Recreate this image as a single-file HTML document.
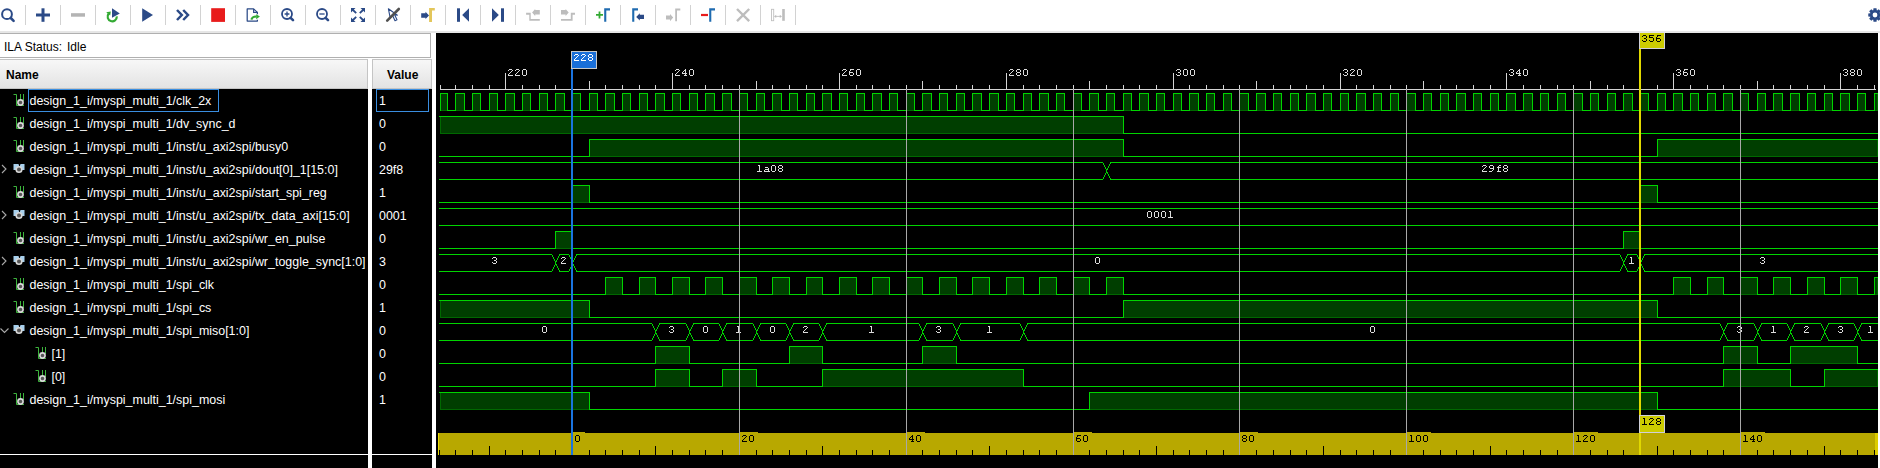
<!DOCTYPE html>
<html><head><meta charset="utf-8"><style>
html,body{margin:0;padding:0;width:1880px;height:468px;overflow:hidden;background:#fff}
svg{display:block}
.nm{font-family:"Liberation Sans",sans-serif;font-size:12.45px;fill:#ffffff}
.rl{font-family:"Liberation Mono",monospace;font-size:11px;letter-spacing:0.5px;fill:#e0e0e0}
.bl{font-family:"Liberation Mono",monospace;font-size:11px;letter-spacing:0.5px;fill:#e0e0e0}
.yl{font-family:"Liberation Mono",monospace;font-size:11px;letter-spacing:0.5px;fill:#000}
.cl{font-family:"Liberation Mono",monospace;font-size:11px;letter-spacing:0.5px}
.hd{font-family:"Liberation Sans",sans-serif;font-size:12px;font-weight:bold;fill:#000}
.st{font-family:"Liberation Sans",sans-serif;font-size:12px;fill:#000}
</style></head><body>
<svg width="1880" height="468" viewBox="0 0 1880 468">
<defs><linearGradient id="hg" x1="0" y1="0" x2="0" y2="1"><stop offset="0" stop-color="#f8f8f8"/><stop offset="1" stop-color="#e2e2e2"/></linearGradient></defs>
<rect x="0" y="0" width="1880" height="468" fill="#ffffff"/>
<rect x="0" y="31" width="1880" height="2" fill="#e6e6e6"/>
<g id="toolbar">
<g fill="#d2d2d2">
<rect x="25" y="5" width="1" height="20"/><rect x="60" y="5" width="1" height="20"/><rect x="95" y="5" width="1" height="20"/><rect x="130" y="5" width="1" height="20"/><rect x="165" y="5" width="1" height="20"/><rect x="200" y="5" width="1" height="20"/><rect x="235" y="5" width="1" height="20"/><rect x="270" y="5" width="1" height="20"/><rect x="305" y="5" width="1" height="20"/><rect x="340" y="5" width="1" height="20"/><rect x="375" y="5" width="1" height="20"/><rect x="410" y="5" width="1" height="20"/><rect x="445" y="5" width="1" height="20"/><rect x="480" y="5" width="1" height="20"/><rect x="515" y="5" width="1" height="20"/><rect x="550" y="5" width="1" height="20"/><rect x="585" y="5" width="1" height="20"/><rect x="620" y="5" width="1" height="20"/><rect x="655" y="5" width="1" height="20"/><rect x="690" y="5" width="1" height="20"/><rect x="725" y="5" width="1" height="20"/><rect x="760" y="5" width="1" height="20"/><rect x="795" y="5" width="1" height="20"/>
</g>
<!-- search -->
<circle cx="7" cy="14.2" r="4.9" fill="none" stroke="#2b4a87" stroke-width="2"/>
<path d="M10.8 18L13.6 20.8" stroke="#2b4a87" stroke-width="2.6" stroke-linecap="round"/>
<!-- plus -->
<rect x="36" y="13.5" width="14" height="3" fill="#2b4a87"/><rect x="41.5" y="8.3" width="3" height="13.5" fill="#2b4a87"/>
<!-- minus -->
<rect x="71" y="13.2" width="14" height="3.5" fill="#b4b4b4"/>
<!-- restart -->
<path d="M112 8.2L119.8 13.4L112 17.8Z" fill="#2b4a87"/>
<path d="M108.6 13.8A4.6 4.6 0 1 0 116.8 16.4" fill="none" stroke="#33aa33" stroke-width="2.2"/>
<path d="M106.2 12.2L110.8 11.6L110.2 15.6Z" fill="#33aa33"/>
<!-- play -->
<path d="M142.2 8.3L153 15L142.2 21.8Z" fill="#2b4a87"/>
<!-- double chevron -->
<path d="M177 10L181.8 15L177 20M183.2 10L188 15L183.2 20" fill="none" stroke="#2b4a87" stroke-width="2.5"/>
<!-- stop -->
<rect x="211.2" y="8.2" width="13.8" height="13.7" fill="#e81c1c"/>
<!-- export -->
<path d="M257.4 14.2V12.4L253.6 8.9H247.2V21H257.4V19.8" fill="none" stroke="#2b4a87" stroke-width="1.25" stroke-linejoin="round"/>
<path d="M253.6 8.9V12.4H257.4" fill="none" stroke="#2b4a87" stroke-width="1.1"/>
<path d="M251.3 19.6C252 17.4 253.6 16.4 256.4 16.5" fill="none" stroke="#33aa33" stroke-width="2"/>
<path d="M256.2 14.2L259.9 16.5L256.2 19.2Z" fill="#33aa33"/>
<!-- zoom in -->
<circle cx="287" cy="14" r="5" fill="none" stroke="#2b4a87" stroke-width="1.8"/>
<path d="M293 20.2L290.6 17.8" stroke="#2b4a87" stroke-width="2.6" stroke-linecap="round"/>
<path d="M284.6 14H289.4M287 11.6V16.4" stroke="#2b4a87" stroke-width="1.3"/>
<!-- zoom out -->
<circle cx="322" cy="14" r="5" fill="none" stroke="#2b4a87" stroke-width="1.8"/>
<path d="M328 20.2L325.6 17.8" stroke="#2b4a87" stroke-width="2.6" stroke-linecap="round"/>
<path d="M319.4 14H324.6" stroke="#2b4a87" stroke-width="1.3"/>
<!-- fit -->
<g fill="#2b4a87">
<path d="M351 8H355.5L351 12.5Z"/><path d="M365 8H360.5L365 12.5Z"/><path d="M351 22H355.5L351 17.5Z"/><path d="M365 22H360.5L365 17.5Z"/>
</g>
<path d="M352.5 9.5L356.2 13.2M363.5 9.5L359.8 13.2M352.5 20.5L356.2 16.8M363.5 20.5L359.8 16.8" stroke="#2b4a87" stroke-width="1.8"/>
<!-- cursor slash -->
<path d="M388.4 8.8L390 16.8L392.6 15.6L395 20.8L397 19.8L394.6 14.8L397.4 15.2Z" fill="none" stroke="#2b4a87" stroke-width="1.1" stroke-linejoin="round"/>
<path d="M387.2 20.6L398.8 9" stroke="#505050" stroke-width="2.6" stroke-linecap="round"/>
<!-- goto marker -->
<path d="M421.2 13.2H425.5V11.8L429 15.4L425.5 19.1V17.8H421.2Z" fill="#2b4a87"/>
<path d="M429.1 21.9V8.1H434.8V10.6H432V21.9Z" fill="#e3c65a"/>
<!-- go start -->
<rect x="457" y="8.3" width="3" height="13.5" fill="#2b4a87"/><path d="M462.2 15L469 8.3V21.8Z" fill="#2b4a87"/>
<!-- go end -->
<path d="M492 8.3L498.8 15L492 21.8Z" fill="#2b4a87"/><rect x="501" y="8.3" width="3" height="13.5" fill="#2b4a87"/>
<!-- prev transition -->
<g fill="#bdbdbd">
<path d="M526.1 12.7H530.7V19H539.8V20.7H529.3V14.7H526.1Z"/>
<path d="M535.2 10.1H539.8V14.6H535.2V16L532.1 12.4L535.2 8.9Z"/>
</g>
<!-- next transition -->
<g fill="#bdbdbd">
<path d="M561 10.1H565.6V8.9L568.7 12.4L565.6 16V14.6H561Z"/>
<path d="M575 12.7H570.8V19H561V20.7H572.6V14.7H575Z"/>
</g>
<!-- add marker -->
<path d="M596 14.9H603M599.5 11.4V18.4" stroke="#33aa33" stroke-width="1.8"/>
<path d="M604.2 21.8V8.3H610V10.4H606.3V21.8Z" fill="#1f6bb0"/>
<!-- prev marker -->
<path d="M632.2 21.8V8.3H638V10.4H634.3V21.8Z" fill="#1f6bb0"/>
<path d="M644 14.8H639.8V13.2L636.2 16.9L639.8 20.6V19H644Z" fill="#2b4a87"/>
<!-- next marker (gray) -->
<path d="M666 15.5H670V13.9L673.2 17.6L670 21.2V19.6H666Z" fill="#bdbdbd"/>
<path d="M675.2 21.3V8.6H680.3V10.6H677V21.3Z" fill="#bdbdbd"/>
<!-- delete marker -->
<rect x="701" y="13.9" width="7" height="2.2" fill="#e81c1c"/>
<path d="M709.2 21.8V8.3H715V10.4H711.3V21.8Z" fill="#1f6bb0"/>
<!-- X gray -->
<path d="M737 9L749.2 21.2M749.2 9L737 21.2" stroke="#bdbdbd" stroke-width="2.4"/>
<!-- range -->
<rect x="771.5" y="9.3" width="2.2" height="11.4" fill="none" stroke="#c0c0c0" stroke-width="0.9"/>
<rect x="782.2" y="9" width="2.6" height="11.8" fill="#bdbdbd"/>
<path d="M774.5 16.4H781.5" stroke="#bdbdbd" stroke-width="0.9"/>
<path d="M774.3 16.4L776.2 14.8V18Z M781.7 16.4L779.8 14.8V18Z" fill="#bdbdbd"/>
<!-- gear -->
<path d="M1879.68 13.24L1881.73 13.49L1881.73 16.51L1879.68 16.76L1879.55 17.06L1880.83 18.70L1878.70 20.83L1877.06 19.55L1876.76 19.68L1876.51 21.73L1873.49 21.73L1873.24 19.68L1872.94 19.55L1871.30 20.83L1869.17 18.70L1870.45 17.06L1870.32 16.76L1868.27 16.51L1868.27 13.49L1870.32 13.24L1870.45 12.94L1869.17 11.30L1871.30 9.17L1872.94 10.45L1873.24 10.32L1873.49 8.27L1876.51 8.27L1876.76 10.32L1877.06 10.45L1878.70 9.17L1880.83 11.30L1879.55 12.94Z" fill="#2b4a87"/>
<circle cx="1875" cy="15" r="2.4" fill="#fff"/>
</g>

<!-- status box -->
<rect x="-1.5" y="33.5" width="432" height="24" fill="#fff" stroke="#b0b0b0"/>
<text x="4" y="51" class="st">ILA Status:</text><text x="67" y="51" class="st">Idle</text>
<!-- headers -->
<rect x="0" y="59" width="368" height="30" fill="url(#hg)"/>
<rect x="-1.5" y="59.5" width="369" height="29" fill="none" stroke="#c4c4c4"/>
<text x="6" y="79" class="hd">Name</text>
<rect x="372" y="59" width="60" height="30" fill="url(#hg)"/>
<rect x="372.5" y="59.5" width="59" height="29" fill="none" stroke="#c4c4c4"/>
<text x="387" y="79" class="hd">Value</text>
<!-- rows bg -->
<rect x="0" y="89" width="368" height="379" fill="#000"/>
<rect x="372" y="89" width="60" height="379" fill="#000"/>
<rect x="0" y="454" width="368" height="1" fill="#ffffff"/>
<rect x="372" y="454" width="60" height="1" fill="#ffffff"/>
<rect x="28.5" y="89.5" width="190" height="22" fill="none" stroke="#3a8ee0"/>
<rect x="376.5" y="89.5" width="52" height="22" fill="none" stroke="#3a8ee0"/>
<g transform="translate(0,89)"><path d="M13.5 5.5H16.5V16.5H24M20.5 5V12M23.5 5V12" stroke="#3cb43c" fill="none"/><circle cx="20.5" cy="13.5" r="2.6" fill="#555" stroke="#d8d8d8" stroke-width="1.6"/></g>
<text x="29.5" y="105" class="nm">design_1_i/myspi_multi_1/clk_2x</text>
<text x="379" y="105" class="nm">1</text>
<g transform="translate(0,112)"><path d="M13.5 5.5H16.5V16.5H24M20.5 5V12M23.5 5V12" stroke="#3cb43c" fill="none"/><circle cx="20.5" cy="13.5" r="2.6" fill="#555" stroke="#d8d8d8" stroke-width="1.6"/></g>
<text x="29.5" y="128" class="nm">design_1_i/myspi_multi_1/dv_sync_d</text>
<text x="379" y="128" class="nm">0</text>
<g transform="translate(0,135)"><path d="M13.5 5.5H16.5V16.5H24M20.5 5V12M23.5 5V12" stroke="#3cb43c" fill="none"/><circle cx="20.5" cy="13.5" r="2.6" fill="#555" stroke="#d8d8d8" stroke-width="1.6"/></g>
<text x="29.5" y="151" class="nm">design_1_i/myspi_multi_1/inst/u_axi2spi/busy0</text>
<text x="379" y="151" class="nm">0</text>
<g transform="translate(0,158)"><path d="M2 7L6 11L2 15" stroke="#a8a8a8" fill="none" stroke-width="1.1"/><path d="M13.5 6H18.5L19.5 9L20.5 6H24.5V12H21L19.5 10L18 12H13.5Z" fill="#a8d0ec"/><circle cx="19" cy="11.5" r="2.8" fill="#555" stroke="#d8d8d8" stroke-width="1.6"/></g>
<text x="29.5" y="174" class="nm">design_1_i/myspi_multi_1/inst/u_axi2spi/dout[0]_1[15:0]</text>
<text x="379" y="174" class="nm">29f8</text>
<g transform="translate(0,181)"><path d="M13.5 5.5H16.5V16.5H24M20.5 5V12M23.5 5V12" stroke="#3cb43c" fill="none"/><circle cx="20.5" cy="13.5" r="2.6" fill="#555" stroke="#d8d8d8" stroke-width="1.6"/></g>
<text x="29.5" y="197" class="nm">design_1_i/myspi_multi_1/inst/u_axi2spi/start_spi_reg</text>
<text x="379" y="197" class="nm">1</text>
<g transform="translate(0,204)"><path d="M2 7L6 11L2 15" stroke="#a8a8a8" fill="none" stroke-width="1.1"/><path d="M13.5 6H18.5L19.5 9L20.5 6H24.5V12H21L19.5 10L18 12H13.5Z" fill="#a8d0ec"/><circle cx="19" cy="11.5" r="2.8" fill="#555" stroke="#d8d8d8" stroke-width="1.6"/></g>
<text x="29.5" y="220" class="nm">design_1_i/myspi_multi_1/inst/u_axi2spi/tx_data_axi[15:0]</text>
<text x="379" y="220" class="nm">0001</text>
<g transform="translate(0,227)"><path d="M13.5 5.5H16.5V16.5H24M20.5 5V12M23.5 5V12" stroke="#3cb43c" fill="none"/><circle cx="20.5" cy="13.5" r="2.6" fill="#555" stroke="#d8d8d8" stroke-width="1.6"/></g>
<text x="29.5" y="243" class="nm">design_1_i/myspi_multi_1/inst/u_axi2spi/wr_en_pulse</text>
<text x="379" y="243" class="nm">0</text>
<g transform="translate(0,250)"><path d="M2 7L6 11L2 15" stroke="#a8a8a8" fill="none" stroke-width="1.1"/><path d="M13.5 6H18.5L19.5 9L20.5 6H24.5V12H21L19.5 10L18 12H13.5Z" fill="#a8d0ec"/><circle cx="19" cy="11.5" r="2.8" fill="#555" stroke="#d8d8d8" stroke-width="1.6"/></g>
<text x="29.5" y="266" class="nm">design_1_i/myspi_multi_1/inst/u_axi2spi/wr_toggle_sync[1:0]</text>
<text x="379" y="266" class="nm">3</text>
<g transform="translate(0,273)"><path d="M13.5 5.5H16.5V16.5H24M20.5 5V12M23.5 5V12" stroke="#3cb43c" fill="none"/><circle cx="20.5" cy="13.5" r="2.6" fill="#555" stroke="#d8d8d8" stroke-width="1.6"/></g>
<text x="29.5" y="289" class="nm">design_1_i/myspi_multi_1/spi_clk</text>
<text x="379" y="289" class="nm">0</text>
<g transform="translate(0,296)"><path d="M13.5 5.5H16.5V16.5H24M20.5 5V12M23.5 5V12" stroke="#3cb43c" fill="none"/><circle cx="20.5" cy="13.5" r="2.6" fill="#555" stroke="#d8d8d8" stroke-width="1.6"/></g>
<text x="29.5" y="312" class="nm">design_1_i/myspi_multi_1/spi_cs</text>
<text x="379" y="312" class="nm">1</text>
<g transform="translate(0,319)"><path d="M0.5 9.5L4.5 13.5L8.5 9.5" stroke="#a8a8a8" fill="none" stroke-width="1.1"/><path d="M13.5 6H18.5L19.5 9L20.5 6H24.5V12H21L19.5 10L18 12H13.5Z" fill="#a8d0ec"/><circle cx="19" cy="11.5" r="2.8" fill="#555" stroke="#d8d8d8" stroke-width="1.6"/></g>
<text x="29.5" y="335" class="nm">design_1_i/myspi_multi_1/spi_miso[1:0]</text>
<text x="379" y="335" class="nm">0</text>
<g transform="translate(22,342)"><path d="M13.5 5.5H16.5V16.5H24M20.5 5V12M23.5 5V12" stroke="#3cb43c" fill="none"/><circle cx="20.5" cy="13.5" r="2.6" fill="#555" stroke="#d8d8d8" stroke-width="1.6"/></g>
<text x="51.5" y="358" class="nm">[1]</text>
<text x="379" y="358" class="nm">0</text>
<g transform="translate(22,365)"><path d="M13.5 5.5H16.5V16.5H24M20.5 5V12M23.5 5V12" stroke="#3cb43c" fill="none"/><circle cx="20.5" cy="13.5" r="2.6" fill="#555" stroke="#d8d8d8" stroke-width="1.6"/></g>
<text x="51.5" y="381" class="nm">[0]</text>
<text x="379" y="381" class="nm">0</text>
<g transform="translate(0,388)"><path d="M13.5 5.5H16.5V16.5H24M20.5 5V12M23.5 5V12" stroke="#3cb43c" fill="none"/><circle cx="20.5" cy="13.5" r="2.6" fill="#555" stroke="#d8d8d8" stroke-width="1.6"/></g>
<text x="29.5" y="404" class="nm">design_1_i/myspi_multi_1/spi_mosi</text>
<text x="379" y="404" class="nm">1</text>
<g shape-rendering="crispEdges">
<rect x="436" y="33" width="1442" height="435" fill="#000000"/>
<rect x="440" y="89" width="1436" height="1" fill="#d4d4d4"/>
<rect x="440" y="85" width="1" height="5" fill="#d4d4d4"/>
<rect x="455" y="85" width="1" height="5" fill="#d4d4d4"/>
<rect x="472" y="85" width="1" height="5" fill="#d4d4d4"/>
<rect x="489" y="85" width="1" height="5" fill="#d4d4d4"/>
<rect x="505" y="73" width="1" height="17" fill="#d4d4d4"/>
<path d="M509 69h3v1h-3zM508 70h1v1h-1zM512 70h1v1h-1zM511 71h1v1h-1zM510 72h1v1h-1zM509 73h1v1h-1zM508 74h1v1h-1zM508 75h5v1h-5zM516 69h3v1h-3zM515 70h1v1h-1zM519 70h1v1h-1zM518 71h1v1h-1zM517 72h1v1h-1zM516 73h1v1h-1zM515 74h1v1h-1zM515 75h5v1h-5zM523 69h3v1h-3zM522 70h1v1h-1zM526 70h1v1h-1zM522 71h1v1h-1zM526 71h1v1h-1zM522 72h1v1h-1zM526 72h1v1h-1zM522 73h1v1h-1zM526 73h1v1h-1zM522 74h1v1h-1zM526 74h1v1h-1zM523 75h3v1h-3z" fill="#dcdcdc"/>
<rect x="522" y="85" width="1" height="5" fill="#d4d4d4"/>
<rect x="539" y="85" width="1" height="5" fill="#d4d4d4"/>
<rect x="555" y="85" width="1" height="5" fill="#d4d4d4"/>
<rect x="572" y="85" width="1" height="5" fill="#d4d4d4"/>
<rect x="589" y="81" width="1" height="9" fill="#d4d4d4"/>
<rect x="605" y="85" width="1" height="5" fill="#d4d4d4"/>
<rect x="622" y="85" width="1" height="5" fill="#d4d4d4"/>
<rect x="639" y="85" width="1" height="5" fill="#d4d4d4"/>
<rect x="655" y="85" width="1" height="5" fill="#d4d4d4"/>
<rect x="672" y="73" width="1" height="17" fill="#d4d4d4"/>
<path d="M676 69h3v1h-3zM675 70h1v1h-1zM679 70h1v1h-1zM678 71h1v1h-1zM677 72h1v1h-1zM676 73h1v1h-1zM675 74h1v1h-1zM675 75h5v1h-5zM685 69h1v1h-1zM684 70h2v1h-2zM683 71h1v1h-1zM685 71h1v1h-1zM682 72h1v1h-1zM685 72h1v1h-1zM682 73h5v1h-5zM685 74h1v1h-1zM684 75h3v1h-3zM690 69h3v1h-3zM689 70h1v1h-1zM693 70h1v1h-1zM689 71h1v1h-1zM693 71h1v1h-1zM689 72h1v1h-1zM693 72h1v1h-1zM689 73h1v1h-1zM693 73h1v1h-1zM689 74h1v1h-1zM693 74h1v1h-1zM690 75h3v1h-3z" fill="#dcdcdc"/>
<rect x="689" y="85" width="1" height="5" fill="#d4d4d4"/>
<rect x="705" y="85" width="1" height="5" fill="#d4d4d4"/>
<rect x="722" y="85" width="1" height="5" fill="#d4d4d4"/>
<rect x="739" y="85" width="1" height="5" fill="#d4d4d4"/>
<rect x="756" y="81" width="1" height="9" fill="#d4d4d4"/>
<rect x="772" y="85" width="1" height="5" fill="#d4d4d4"/>
<rect x="789" y="85" width="1" height="5" fill="#d4d4d4"/>
<rect x="806" y="85" width="1" height="5" fill="#d4d4d4"/>
<rect x="822" y="85" width="1" height="5" fill="#d4d4d4"/>
<rect x="839" y="73" width="1" height="17" fill="#d4d4d4"/>
<path d="M843 69h3v1h-3zM842 70h1v1h-1zM846 70h1v1h-1zM845 71h1v1h-1zM844 72h1v1h-1zM843 73h1v1h-1zM842 74h1v1h-1zM842 75h5v1h-5zM850 69h4v1h-4zM850 70h1v1h-1zM849 71h1v1h-1zM849 72h4v1h-4zM849 73h1v1h-1zM853 73h1v1h-1zM849 74h1v1h-1zM853 74h1v1h-1zM850 75h3v1h-3zM857 69h3v1h-3zM856 70h1v1h-1zM860 70h1v1h-1zM856 71h1v1h-1zM860 71h1v1h-1zM856 72h1v1h-1zM860 72h1v1h-1zM856 73h1v1h-1zM860 73h1v1h-1zM856 74h1v1h-1zM860 74h1v1h-1zM857 75h3v1h-3z" fill="#dcdcdc"/>
<rect x="856" y="85" width="1" height="5" fill="#d4d4d4"/>
<rect x="872" y="85" width="1" height="5" fill="#d4d4d4"/>
<rect x="889" y="85" width="1" height="5" fill="#d4d4d4"/>
<rect x="906" y="85" width="1" height="5" fill="#d4d4d4"/>
<rect x="922" y="81" width="1" height="9" fill="#d4d4d4"/>
<rect x="939" y="85" width="1" height="5" fill="#d4d4d4"/>
<rect x="956" y="85" width="1" height="5" fill="#d4d4d4"/>
<rect x="972" y="85" width="1" height="5" fill="#d4d4d4"/>
<rect x="989" y="85" width="1" height="5" fill="#d4d4d4"/>
<rect x="1006" y="73" width="1" height="17" fill="#d4d4d4"/>
<path d="M1010 69h3v1h-3zM1009 70h1v1h-1zM1013 70h1v1h-1zM1012 71h1v1h-1zM1011 72h1v1h-1zM1010 73h1v1h-1zM1009 74h1v1h-1zM1009 75h5v1h-5zM1017 69h3v1h-3zM1016 70h1v1h-1zM1020 70h1v1h-1zM1016 71h1v1h-1zM1020 71h1v1h-1zM1017 72h3v1h-3zM1016 73h1v1h-1zM1020 73h1v1h-1zM1016 74h1v1h-1zM1020 74h1v1h-1zM1017 75h3v1h-3zM1024 69h3v1h-3zM1023 70h1v1h-1zM1027 70h1v1h-1zM1023 71h1v1h-1zM1027 71h1v1h-1zM1023 72h1v1h-1zM1027 72h1v1h-1zM1023 73h1v1h-1zM1027 73h1v1h-1zM1023 74h1v1h-1zM1027 74h1v1h-1zM1024 75h3v1h-3z" fill="#dcdcdc"/>
<rect x="1023" y="85" width="1" height="5" fill="#d4d4d4"/>
<rect x="1039" y="85" width="1" height="5" fill="#d4d4d4"/>
<rect x="1056" y="85" width="1" height="5" fill="#d4d4d4"/>
<rect x="1073" y="85" width="1" height="5" fill="#d4d4d4"/>
<rect x="1089" y="81" width="1" height="9" fill="#d4d4d4"/>
<rect x="1106" y="85" width="1" height="5" fill="#d4d4d4"/>
<rect x="1123" y="85" width="1" height="5" fill="#d4d4d4"/>
<rect x="1139" y="85" width="1" height="5" fill="#d4d4d4"/>
<rect x="1156" y="85" width="1" height="5" fill="#d4d4d4"/>
<rect x="1173" y="73" width="1" height="17" fill="#d4d4d4"/>
<path d="M1177 69h3v1h-3zM1176 70h1v1h-1zM1180 70h1v1h-1zM1180 71h1v1h-1zM1178 72h2v1h-2zM1180 73h1v1h-1zM1176 74h1v1h-1zM1180 74h1v1h-1zM1177 75h3v1h-3zM1184 69h3v1h-3zM1183 70h1v1h-1zM1187 70h1v1h-1zM1183 71h1v1h-1zM1187 71h1v1h-1zM1183 72h1v1h-1zM1187 72h1v1h-1zM1183 73h1v1h-1zM1187 73h1v1h-1zM1183 74h1v1h-1zM1187 74h1v1h-1zM1184 75h3v1h-3zM1191 69h3v1h-3zM1190 70h1v1h-1zM1194 70h1v1h-1zM1190 71h1v1h-1zM1194 71h1v1h-1zM1190 72h1v1h-1zM1194 72h1v1h-1zM1190 73h1v1h-1zM1194 73h1v1h-1zM1190 74h1v1h-1zM1194 74h1v1h-1zM1191 75h3v1h-3z" fill="#dcdcdc"/>
<rect x="1189" y="85" width="1" height="5" fill="#d4d4d4"/>
<rect x="1206" y="85" width="1" height="5" fill="#d4d4d4"/>
<rect x="1223" y="85" width="1" height="5" fill="#d4d4d4"/>
<rect x="1239" y="85" width="1" height="5" fill="#d4d4d4"/>
<rect x="1256" y="81" width="1" height="9" fill="#d4d4d4"/>
<rect x="1273" y="85" width="1" height="5" fill="#d4d4d4"/>
<rect x="1290" y="85" width="1" height="5" fill="#d4d4d4"/>
<rect x="1306" y="85" width="1" height="5" fill="#d4d4d4"/>
<rect x="1323" y="85" width="1" height="5" fill="#d4d4d4"/>
<rect x="1340" y="73" width="1" height="17" fill="#d4d4d4"/>
<path d="M1344 69h3v1h-3zM1343 70h1v1h-1zM1347 70h1v1h-1zM1347 71h1v1h-1zM1345 72h2v1h-2zM1347 73h1v1h-1zM1343 74h1v1h-1zM1347 74h1v1h-1zM1344 75h3v1h-3zM1351 69h3v1h-3zM1350 70h1v1h-1zM1354 70h1v1h-1zM1353 71h1v1h-1zM1352 72h1v1h-1zM1351 73h1v1h-1zM1350 74h1v1h-1zM1350 75h5v1h-5zM1358 69h3v1h-3zM1357 70h1v1h-1zM1361 70h1v1h-1zM1357 71h1v1h-1zM1361 71h1v1h-1zM1357 72h1v1h-1zM1361 72h1v1h-1zM1357 73h1v1h-1zM1361 73h1v1h-1zM1357 74h1v1h-1zM1361 74h1v1h-1zM1358 75h3v1h-3z" fill="#dcdcdc"/>
<rect x="1356" y="85" width="1" height="5" fill="#d4d4d4"/>
<rect x="1373" y="85" width="1" height="5" fill="#d4d4d4"/>
<rect x="1390" y="85" width="1" height="5" fill="#d4d4d4"/>
<rect x="1406" y="85" width="1" height="5" fill="#d4d4d4"/>
<rect x="1423" y="81" width="1" height="9" fill="#d4d4d4"/>
<rect x="1440" y="85" width="1" height="5" fill="#d4d4d4"/>
<rect x="1456" y="85" width="1" height="5" fill="#d4d4d4"/>
<rect x="1473" y="85" width="1" height="5" fill="#d4d4d4"/>
<rect x="1490" y="85" width="1" height="5" fill="#d4d4d4"/>
<rect x="1506" y="73" width="1" height="17" fill="#d4d4d4"/>
<path d="M1510 69h3v1h-3zM1509 70h1v1h-1zM1513 70h1v1h-1zM1513 71h1v1h-1zM1511 72h2v1h-2zM1513 73h1v1h-1zM1509 74h1v1h-1zM1513 74h1v1h-1zM1510 75h3v1h-3zM1519 69h1v1h-1zM1518 70h2v1h-2zM1517 71h1v1h-1zM1519 71h1v1h-1zM1516 72h1v1h-1zM1519 72h1v1h-1zM1516 73h5v1h-5zM1519 74h1v1h-1zM1518 75h3v1h-3zM1524 69h3v1h-3zM1523 70h1v1h-1zM1527 70h1v1h-1zM1523 71h1v1h-1zM1527 71h1v1h-1zM1523 72h1v1h-1zM1527 72h1v1h-1zM1523 73h1v1h-1zM1527 73h1v1h-1zM1523 74h1v1h-1zM1527 74h1v1h-1zM1524 75h3v1h-3z" fill="#dcdcdc"/>
<rect x="1523" y="85" width="1" height="5" fill="#d4d4d4"/>
<rect x="1540" y="85" width="1" height="5" fill="#d4d4d4"/>
<rect x="1557" y="85" width="1" height="5" fill="#d4d4d4"/>
<rect x="1573" y="85" width="1" height="5" fill="#d4d4d4"/>
<rect x="1590" y="81" width="1" height="9" fill="#d4d4d4"/>
<rect x="1607" y="85" width="1" height="5" fill="#d4d4d4"/>
<rect x="1623" y="85" width="1" height="5" fill="#d4d4d4"/>
<rect x="1640" y="85" width="1" height="5" fill="#d4d4d4"/>
<rect x="1657" y="85" width="1" height="5" fill="#d4d4d4"/>
<rect x="1673" y="73" width="1" height="17" fill="#d4d4d4"/>
<path d="M1677 69h3v1h-3zM1676 70h1v1h-1zM1680 70h1v1h-1zM1680 71h1v1h-1zM1678 72h2v1h-2zM1680 73h1v1h-1zM1676 74h1v1h-1zM1680 74h1v1h-1zM1677 75h3v1h-3zM1684 69h4v1h-4zM1684 70h1v1h-1zM1683 71h1v1h-1zM1683 72h4v1h-4zM1683 73h1v1h-1zM1687 73h1v1h-1zM1683 74h1v1h-1zM1687 74h1v1h-1zM1684 75h3v1h-3zM1691 69h3v1h-3zM1690 70h1v1h-1zM1694 70h1v1h-1zM1690 71h1v1h-1zM1694 71h1v1h-1zM1690 72h1v1h-1zM1694 72h1v1h-1zM1690 73h1v1h-1zM1694 73h1v1h-1zM1690 74h1v1h-1zM1694 74h1v1h-1zM1691 75h3v1h-3z" fill="#dcdcdc"/>
<rect x="1690" y="85" width="1" height="5" fill="#d4d4d4"/>
<rect x="1707" y="85" width="1" height="5" fill="#d4d4d4"/>
<rect x="1723" y="85" width="1" height="5" fill="#d4d4d4"/>
<rect x="1740" y="85" width="1" height="5" fill="#d4d4d4"/>
<rect x="1757" y="81" width="1" height="9" fill="#d4d4d4"/>
<rect x="1773" y="85" width="1" height="5" fill="#d4d4d4"/>
<rect x="1790" y="85" width="1" height="5" fill="#d4d4d4"/>
<rect x="1807" y="85" width="1" height="5" fill="#d4d4d4"/>
<rect x="1824" y="85" width="1" height="5" fill="#d4d4d4"/>
<rect x="1840" y="73" width="1" height="17" fill="#d4d4d4"/>
<path d="M1844 69h3v1h-3zM1843 70h1v1h-1zM1847 70h1v1h-1zM1847 71h1v1h-1zM1845 72h2v1h-2zM1847 73h1v1h-1zM1843 74h1v1h-1zM1847 74h1v1h-1zM1844 75h3v1h-3zM1851 69h3v1h-3zM1850 70h1v1h-1zM1854 70h1v1h-1zM1850 71h1v1h-1zM1854 71h1v1h-1zM1851 72h3v1h-3zM1850 73h1v1h-1zM1854 73h1v1h-1zM1850 74h1v1h-1zM1854 74h1v1h-1zM1851 75h3v1h-3zM1858 69h3v1h-3zM1857 70h1v1h-1zM1861 70h1v1h-1zM1857 71h1v1h-1zM1861 71h1v1h-1zM1857 72h1v1h-1zM1861 72h1v1h-1zM1857 73h1v1h-1zM1861 73h1v1h-1zM1857 74h1v1h-1zM1861 74h1v1h-1zM1858 75h3v1h-3z" fill="#dcdcdc"/>
<rect x="1857" y="85" width="1" height="5" fill="#d4d4d4"/>
<rect x="1874" y="85" width="1" height="5" fill="#d4d4d4"/>
<rect x="440" y="93" width="8" height="18" fill="#006800"/>
<rect x="441" y="94" width="6" height="16" fill="#003e00"/>
<rect x="455" y="93" width="10" height="18" fill="#006800"/>
<rect x="456" y="94" width="8" height="16" fill="#003e00"/>
<rect x="472" y="93" width="9" height="18" fill="#006800"/>
<rect x="473" y="94" width="7" height="16" fill="#003e00"/>
<rect x="489" y="93" width="9" height="18" fill="#006800"/>
<rect x="490" y="94" width="7" height="16" fill="#003e00"/>
<rect x="505" y="93" width="10" height="18" fill="#006800"/>
<rect x="506" y="94" width="8" height="16" fill="#003e00"/>
<rect x="522" y="93" width="9" height="18" fill="#006800"/>
<rect x="523" y="94" width="7" height="16" fill="#003e00"/>
<rect x="539" y="93" width="9" height="18" fill="#006800"/>
<rect x="540" y="94" width="7" height="16" fill="#003e00"/>
<rect x="555" y="93" width="10" height="18" fill="#006800"/>
<rect x="556" y="94" width="8" height="16" fill="#003e00"/>
<rect x="572" y="93" width="9" height="18" fill="#006800"/>
<rect x="573" y="94" width="7" height="16" fill="#003e00"/>
<rect x="589" y="93" width="9" height="18" fill="#006800"/>
<rect x="590" y="94" width="7" height="16" fill="#003e00"/>
<rect x="605" y="93" width="10" height="18" fill="#006800"/>
<rect x="606" y="94" width="8" height="16" fill="#003e00"/>
<rect x="622" y="93" width="9" height="18" fill="#006800"/>
<rect x="623" y="94" width="7" height="16" fill="#003e00"/>
<rect x="639" y="93" width="9" height="18" fill="#006800"/>
<rect x="640" y="94" width="7" height="16" fill="#003e00"/>
<rect x="655" y="93" width="10" height="18" fill="#006800"/>
<rect x="656" y="94" width="8" height="16" fill="#003e00"/>
<rect x="672" y="93" width="9" height="18" fill="#006800"/>
<rect x="673" y="94" width="7" height="16" fill="#003e00"/>
<rect x="689" y="93" width="9" height="18" fill="#006800"/>
<rect x="690" y="94" width="7" height="16" fill="#003e00"/>
<rect x="705" y="93" width="10" height="18" fill="#006800"/>
<rect x="706" y="94" width="8" height="16" fill="#003e00"/>
<rect x="722" y="93" width="10" height="18" fill="#006800"/>
<rect x="723" y="94" width="8" height="16" fill="#003e00"/>
<rect x="739" y="93" width="9" height="18" fill="#006800"/>
<rect x="740" y="94" width="7" height="16" fill="#003e00"/>
<rect x="756" y="93" width="9" height="18" fill="#006800"/>
<rect x="757" y="94" width="7" height="16" fill="#003e00"/>
<rect x="772" y="93" width="10" height="18" fill="#006800"/>
<rect x="773" y="94" width="8" height="16" fill="#003e00"/>
<rect x="789" y="93" width="9" height="18" fill="#006800"/>
<rect x="790" y="94" width="7" height="16" fill="#003e00"/>
<rect x="806" y="93" width="9" height="18" fill="#006800"/>
<rect x="807" y="94" width="7" height="16" fill="#003e00"/>
<rect x="822" y="93" width="10" height="18" fill="#006800"/>
<rect x="823" y="94" width="8" height="16" fill="#003e00"/>
<rect x="839" y="93" width="9" height="18" fill="#006800"/>
<rect x="840" y="94" width="7" height="16" fill="#003e00"/>
<rect x="856" y="93" width="9" height="18" fill="#006800"/>
<rect x="857" y="94" width="7" height="16" fill="#003e00"/>
<rect x="872" y="93" width="10" height="18" fill="#006800"/>
<rect x="873" y="94" width="8" height="16" fill="#003e00"/>
<rect x="889" y="93" width="9" height="18" fill="#006800"/>
<rect x="890" y="94" width="7" height="16" fill="#003e00"/>
<rect x="906" y="93" width="9" height="18" fill="#006800"/>
<rect x="907" y="94" width="7" height="16" fill="#003e00"/>
<rect x="922" y="93" width="10" height="18" fill="#006800"/>
<rect x="923" y="94" width="8" height="16" fill="#003e00"/>
<rect x="939" y="93" width="9" height="18" fill="#006800"/>
<rect x="940" y="94" width="7" height="16" fill="#003e00"/>
<rect x="956" y="93" width="9" height="18" fill="#006800"/>
<rect x="957" y="94" width="7" height="16" fill="#003e00"/>
<rect x="972" y="93" width="10" height="18" fill="#006800"/>
<rect x="973" y="94" width="8" height="16" fill="#003e00"/>
<rect x="989" y="93" width="10" height="18" fill="#006800"/>
<rect x="990" y="94" width="8" height="16" fill="#003e00"/>
<rect x="1006" y="93" width="9" height="18" fill="#006800"/>
<rect x="1007" y="94" width="7" height="16" fill="#003e00"/>
<rect x="1023" y="93" width="9" height="18" fill="#006800"/>
<rect x="1024" y="94" width="7" height="16" fill="#003e00"/>
<rect x="1039" y="93" width="10" height="18" fill="#006800"/>
<rect x="1040" y="94" width="8" height="16" fill="#003e00"/>
<rect x="1056" y="93" width="9" height="18" fill="#006800"/>
<rect x="1057" y="94" width="7" height="16" fill="#003e00"/>
<rect x="1073" y="93" width="9" height="18" fill="#006800"/>
<rect x="1074" y="94" width="7" height="16" fill="#003e00"/>
<rect x="1089" y="93" width="10" height="18" fill="#006800"/>
<rect x="1090" y="94" width="8" height="16" fill="#003e00"/>
<rect x="1106" y="93" width="9" height="18" fill="#006800"/>
<rect x="1107" y="94" width="7" height="16" fill="#003e00"/>
<rect x="1123" y="93" width="9" height="18" fill="#006800"/>
<rect x="1124" y="94" width="7" height="16" fill="#003e00"/>
<rect x="1139" y="93" width="10" height="18" fill="#006800"/>
<rect x="1140" y="94" width="8" height="16" fill="#003e00"/>
<rect x="1156" y="93" width="9" height="18" fill="#006800"/>
<rect x="1157" y="94" width="7" height="16" fill="#003e00"/>
<rect x="1173" y="93" width="9" height="18" fill="#006800"/>
<rect x="1174" y="94" width="7" height="16" fill="#003e00"/>
<rect x="1189" y="93" width="10" height="18" fill="#006800"/>
<rect x="1190" y="94" width="8" height="16" fill="#003e00"/>
<rect x="1206" y="93" width="9" height="18" fill="#006800"/>
<rect x="1207" y="94" width="7" height="16" fill="#003e00"/>
<rect x="1223" y="93" width="9" height="18" fill="#006800"/>
<rect x="1224" y="94" width="7" height="16" fill="#003e00"/>
<rect x="1239" y="93" width="10" height="18" fill="#006800"/>
<rect x="1240" y="94" width="8" height="16" fill="#003e00"/>
<rect x="1256" y="93" width="10" height="18" fill="#006800"/>
<rect x="1257" y="94" width="8" height="16" fill="#003e00"/>
<rect x="1273" y="93" width="9" height="18" fill="#006800"/>
<rect x="1274" y="94" width="7" height="16" fill="#003e00"/>
<rect x="1290" y="93" width="9" height="18" fill="#006800"/>
<rect x="1291" y="94" width="7" height="16" fill="#003e00"/>
<rect x="1306" y="93" width="10" height="18" fill="#006800"/>
<rect x="1307" y="94" width="8" height="16" fill="#003e00"/>
<rect x="1323" y="93" width="9" height="18" fill="#006800"/>
<rect x="1324" y="94" width="7" height="16" fill="#003e00"/>
<rect x="1340" y="93" width="9" height="18" fill="#006800"/>
<rect x="1341" y="94" width="7" height="16" fill="#003e00"/>
<rect x="1356" y="93" width="10" height="18" fill="#006800"/>
<rect x="1357" y="94" width="8" height="16" fill="#003e00"/>
<rect x="1373" y="93" width="9" height="18" fill="#006800"/>
<rect x="1374" y="94" width="7" height="16" fill="#003e00"/>
<rect x="1390" y="93" width="9" height="18" fill="#006800"/>
<rect x="1391" y="94" width="7" height="16" fill="#003e00"/>
<rect x="1406" y="93" width="10" height="18" fill="#006800"/>
<rect x="1407" y="94" width="8" height="16" fill="#003e00"/>
<rect x="1423" y="93" width="9" height="18" fill="#006800"/>
<rect x="1424" y="94" width="7" height="16" fill="#003e00"/>
<rect x="1440" y="93" width="9" height="18" fill="#006800"/>
<rect x="1441" y="94" width="7" height="16" fill="#003e00"/>
<rect x="1456" y="93" width="10" height="18" fill="#006800"/>
<rect x="1457" y="94" width="8" height="16" fill="#003e00"/>
<rect x="1473" y="93" width="9" height="18" fill="#006800"/>
<rect x="1474" y="94" width="7" height="16" fill="#003e00"/>
<rect x="1490" y="93" width="9" height="18" fill="#006800"/>
<rect x="1491" y="94" width="7" height="16" fill="#003e00"/>
<rect x="1506" y="93" width="10" height="18" fill="#006800"/>
<rect x="1507" y="94" width="8" height="16" fill="#003e00"/>
<rect x="1523" y="93" width="10" height="18" fill="#006800"/>
<rect x="1524" y="94" width="8" height="16" fill="#003e00"/>
<rect x="1540" y="93" width="9" height="18" fill="#006800"/>
<rect x="1541" y="94" width="7" height="16" fill="#003e00"/>
<rect x="1557" y="93" width="9" height="18" fill="#006800"/>
<rect x="1558" y="94" width="7" height="16" fill="#003e00"/>
<rect x="1573" y="93" width="10" height="18" fill="#006800"/>
<rect x="1574" y="94" width="8" height="16" fill="#003e00"/>
<rect x="1590" y="93" width="9" height="18" fill="#006800"/>
<rect x="1591" y="94" width="7" height="16" fill="#003e00"/>
<rect x="1607" y="93" width="9" height="18" fill="#006800"/>
<rect x="1608" y="94" width="7" height="16" fill="#003e00"/>
<rect x="1623" y="93" width="10" height="18" fill="#006800"/>
<rect x="1624" y="94" width="8" height="16" fill="#003e00"/>
<rect x="1640" y="93" width="9" height="18" fill="#006800"/>
<rect x="1641" y="94" width="7" height="16" fill="#003e00"/>
<rect x="1657" y="93" width="9" height="18" fill="#006800"/>
<rect x="1658" y="94" width="7" height="16" fill="#003e00"/>
<rect x="1673" y="93" width="10" height="18" fill="#006800"/>
<rect x="1674" y="94" width="8" height="16" fill="#003e00"/>
<rect x="1690" y="93" width="9" height="18" fill="#006800"/>
<rect x="1691" y="94" width="7" height="16" fill="#003e00"/>
<rect x="1707" y="93" width="9" height="18" fill="#006800"/>
<rect x="1708" y="94" width="7" height="16" fill="#003e00"/>
<rect x="1723" y="93" width="10" height="18" fill="#006800"/>
<rect x="1724" y="94" width="8" height="16" fill="#003e00"/>
<rect x="1740" y="93" width="9" height="18" fill="#006800"/>
<rect x="1741" y="94" width="7" height="16" fill="#003e00"/>
<rect x="1757" y="93" width="9" height="18" fill="#006800"/>
<rect x="1758" y="94" width="7" height="16" fill="#003e00"/>
<rect x="1773" y="93" width="10" height="18" fill="#006800"/>
<rect x="1774" y="94" width="8" height="16" fill="#003e00"/>
<rect x="1790" y="93" width="10" height="18" fill="#006800"/>
<rect x="1791" y="94" width="8" height="16" fill="#003e00"/>
<rect x="1807" y="93" width="9" height="18" fill="#006800"/>
<rect x="1808" y="94" width="7" height="16" fill="#003e00"/>
<rect x="1824" y="93" width="9" height="18" fill="#006800"/>
<rect x="1825" y="94" width="7" height="16" fill="#003e00"/>
<rect x="1840" y="93" width="10" height="18" fill="#006800"/>
<rect x="1841" y="94" width="8" height="16" fill="#003e00"/>
<rect x="1857" y="93" width="9" height="18" fill="#006800"/>
<rect x="1858" y="94" width="7" height="16" fill="#003e00"/>
<rect x="1874" y="93" width="4" height="18" fill="#006800"/>
<rect x="1875" y="94" width="2" height="16" fill="#003e00"/>
<rect x="447" y="110" width="9" height="1" fill="#00d400"/>
<rect x="464" y="110" width="9" height="1" fill="#00d400"/>
<rect x="480" y="110" width="10" height="1" fill="#00d400"/>
<rect x="497" y="110" width="9" height="1" fill="#00d400"/>
<rect x="514" y="110" width="9" height="1" fill="#00d400"/>
<rect x="530" y="110" width="10" height="1" fill="#00d400"/>
<rect x="547" y="110" width="9" height="1" fill="#00d400"/>
<rect x="564" y="110" width="9" height="1" fill="#00d400"/>
<rect x="580" y="110" width="10" height="1" fill="#00d400"/>
<rect x="597" y="110" width="9" height="1" fill="#00d400"/>
<rect x="614" y="110" width="9" height="1" fill="#00d400"/>
<rect x="630" y="110" width="10" height="1" fill="#00d400"/>
<rect x="647" y="110" width="9" height="1" fill="#00d400"/>
<rect x="664" y="110" width="9" height="1" fill="#00d400"/>
<rect x="680" y="110" width="10" height="1" fill="#00d400"/>
<rect x="697" y="110" width="9" height="1" fill="#00d400"/>
<rect x="714" y="110" width="9" height="1" fill="#00d400"/>
<rect x="731" y="110" width="9" height="1" fill="#00d400"/>
<rect x="747" y="110" width="10" height="1" fill="#00d400"/>
<rect x="764" y="110" width="9" height="1" fill="#00d400"/>
<rect x="781" y="110" width="9" height="1" fill="#00d400"/>
<rect x="797" y="110" width="10" height="1" fill="#00d400"/>
<rect x="814" y="110" width="9" height="1" fill="#00d400"/>
<rect x="831" y="110" width="9" height="1" fill="#00d400"/>
<rect x="847" y="110" width="10" height="1" fill="#00d400"/>
<rect x="864" y="110" width="9" height="1" fill="#00d400"/>
<rect x="881" y="110" width="9" height="1" fill="#00d400"/>
<rect x="897" y="110" width="10" height="1" fill="#00d400"/>
<rect x="914" y="110" width="9" height="1" fill="#00d400"/>
<rect x="931" y="110" width="9" height="1" fill="#00d400"/>
<rect x="947" y="110" width="10" height="1" fill="#00d400"/>
<rect x="964" y="110" width="9" height="1" fill="#00d400"/>
<rect x="981" y="110" width="9" height="1" fill="#00d400"/>
<rect x="998" y="110" width="9" height="1" fill="#00d400"/>
<rect x="1014" y="110" width="10" height="1" fill="#00d400"/>
<rect x="1031" y="110" width="9" height="1" fill="#00d400"/>
<rect x="1048" y="110" width="9" height="1" fill="#00d400"/>
<rect x="1064" y="110" width="10" height="1" fill="#00d400"/>
<rect x="1081" y="110" width="9" height="1" fill="#00d400"/>
<rect x="1098" y="110" width="9" height="1" fill="#00d400"/>
<rect x="1114" y="110" width="10" height="1" fill="#00d400"/>
<rect x="1131" y="110" width="9" height="1" fill="#00d400"/>
<rect x="1148" y="110" width="9" height="1" fill="#00d400"/>
<rect x="1164" y="110" width="10" height="1" fill="#00d400"/>
<rect x="1181" y="110" width="9" height="1" fill="#00d400"/>
<rect x="1198" y="110" width="9" height="1" fill="#00d400"/>
<rect x="1214" y="110" width="10" height="1" fill="#00d400"/>
<rect x="1231" y="110" width="9" height="1" fill="#00d400"/>
<rect x="1248" y="110" width="9" height="1" fill="#00d400"/>
<rect x="1265" y="110" width="9" height="1" fill="#00d400"/>
<rect x="1281" y="110" width="10" height="1" fill="#00d400"/>
<rect x="1298" y="110" width="9" height="1" fill="#00d400"/>
<rect x="1315" y="110" width="9" height="1" fill="#00d400"/>
<rect x="1331" y="110" width="10" height="1" fill="#00d400"/>
<rect x="1348" y="110" width="9" height="1" fill="#00d400"/>
<rect x="1365" y="110" width="9" height="1" fill="#00d400"/>
<rect x="1381" y="110" width="10" height="1" fill="#00d400"/>
<rect x="1398" y="110" width="9" height="1" fill="#00d400"/>
<rect x="1415" y="110" width="9" height="1" fill="#00d400"/>
<rect x="1431" y="110" width="10" height="1" fill="#00d400"/>
<rect x="1448" y="110" width="9" height="1" fill="#00d400"/>
<rect x="1465" y="110" width="9" height="1" fill="#00d400"/>
<rect x="1481" y="110" width="10" height="1" fill="#00d400"/>
<rect x="1498" y="110" width="9" height="1" fill="#00d400"/>
<rect x="1515" y="110" width="9" height="1" fill="#00d400"/>
<rect x="1532" y="110" width="9" height="1" fill="#00d400"/>
<rect x="1548" y="110" width="10" height="1" fill="#00d400"/>
<rect x="1565" y="110" width="9" height="1" fill="#00d400"/>
<rect x="1582" y="110" width="9" height="1" fill="#00d400"/>
<rect x="1598" y="110" width="10" height="1" fill="#00d400"/>
<rect x="1615" y="110" width="9" height="1" fill="#00d400"/>
<rect x="1632" y="110" width="9" height="1" fill="#00d400"/>
<rect x="1648" y="110" width="10" height="1" fill="#00d400"/>
<rect x="1665" y="110" width="9" height="1" fill="#00d400"/>
<rect x="1682" y="110" width="9" height="1" fill="#00d400"/>
<rect x="1698" y="110" width="10" height="1" fill="#00d400"/>
<rect x="1715" y="110" width="9" height="1" fill="#00d400"/>
<rect x="1732" y="110" width="9" height="1" fill="#00d400"/>
<rect x="1748" y="110" width="10" height="1" fill="#00d400"/>
<rect x="1765" y="110" width="9" height="1" fill="#00d400"/>
<rect x="1782" y="110" width="9" height="1" fill="#00d400"/>
<rect x="1799" y="110" width="9" height="1" fill="#00d400"/>
<rect x="1815" y="110" width="10" height="1" fill="#00d400"/>
<rect x="1832" y="110" width="9" height="1" fill="#00d400"/>
<rect x="1849" y="110" width="9" height="1" fill="#00d400"/>
<rect x="1865" y="110" width="10" height="1" fill="#00d400"/>
<rect x="440" y="93" width="8" height="1" fill="#00d400"/>
<rect x="440" y="93" width="1" height="18" fill="#00d400"/>
<rect x="447" y="93" width="1" height="18" fill="#00d400"/>
<rect x="455" y="93" width="10" height="1" fill="#00d400"/>
<rect x="455" y="93" width="1" height="18" fill="#00d400"/>
<rect x="464" y="93" width="1" height="18" fill="#00d400"/>
<rect x="472" y="93" width="9" height="1" fill="#00d400"/>
<rect x="472" y="93" width="1" height="18" fill="#00d400"/>
<rect x="480" y="93" width="1" height="18" fill="#00d400"/>
<rect x="489" y="93" width="9" height="1" fill="#00d400"/>
<rect x="489" y="93" width="1" height="18" fill="#00d400"/>
<rect x="497" y="93" width="1" height="18" fill="#00d400"/>
<rect x="505" y="93" width="10" height="1" fill="#00d400"/>
<rect x="505" y="93" width="1" height="18" fill="#00d400"/>
<rect x="514" y="93" width="1" height="18" fill="#00d400"/>
<rect x="522" y="93" width="9" height="1" fill="#00d400"/>
<rect x="522" y="93" width="1" height="18" fill="#00d400"/>
<rect x="530" y="93" width="1" height="18" fill="#00d400"/>
<rect x="539" y="93" width="9" height="1" fill="#00d400"/>
<rect x="539" y="93" width="1" height="18" fill="#00d400"/>
<rect x="547" y="93" width="1" height="18" fill="#00d400"/>
<rect x="555" y="93" width="10" height="1" fill="#00d400"/>
<rect x="555" y="93" width="1" height="18" fill="#00d400"/>
<rect x="564" y="93" width="1" height="18" fill="#00d400"/>
<rect x="572" y="93" width="9" height="1" fill="#00d400"/>
<rect x="572" y="93" width="1" height="18" fill="#00d400"/>
<rect x="580" y="93" width="1" height="18" fill="#00d400"/>
<rect x="589" y="93" width="9" height="1" fill="#00d400"/>
<rect x="589" y="93" width="1" height="18" fill="#00d400"/>
<rect x="597" y="93" width="1" height="18" fill="#00d400"/>
<rect x="605" y="93" width="10" height="1" fill="#00d400"/>
<rect x="605" y="93" width="1" height="18" fill="#00d400"/>
<rect x="614" y="93" width="1" height="18" fill="#00d400"/>
<rect x="622" y="93" width="9" height="1" fill="#00d400"/>
<rect x="622" y="93" width="1" height="18" fill="#00d400"/>
<rect x="630" y="93" width="1" height="18" fill="#00d400"/>
<rect x="639" y="93" width="9" height="1" fill="#00d400"/>
<rect x="639" y="93" width="1" height="18" fill="#00d400"/>
<rect x="647" y="93" width="1" height="18" fill="#00d400"/>
<rect x="655" y="93" width="10" height="1" fill="#00d400"/>
<rect x="655" y="93" width="1" height="18" fill="#00d400"/>
<rect x="664" y="93" width="1" height="18" fill="#00d400"/>
<rect x="672" y="93" width="9" height="1" fill="#00d400"/>
<rect x="672" y="93" width="1" height="18" fill="#00d400"/>
<rect x="680" y="93" width="1" height="18" fill="#00d400"/>
<rect x="689" y="93" width="9" height="1" fill="#00d400"/>
<rect x="689" y="93" width="1" height="18" fill="#00d400"/>
<rect x="697" y="93" width="1" height="18" fill="#00d400"/>
<rect x="705" y="93" width="10" height="1" fill="#00d400"/>
<rect x="705" y="93" width="1" height="18" fill="#00d400"/>
<rect x="714" y="93" width="1" height="18" fill="#00d400"/>
<rect x="722" y="93" width="10" height="1" fill="#00d400"/>
<rect x="722" y="93" width="1" height="18" fill="#00d400"/>
<rect x="731" y="93" width="1" height="18" fill="#00d400"/>
<rect x="739" y="93" width="9" height="1" fill="#00d400"/>
<rect x="739" y="93" width="1" height="18" fill="#00d400"/>
<rect x="747" y="93" width="1" height="18" fill="#00d400"/>
<rect x="756" y="93" width="9" height="1" fill="#00d400"/>
<rect x="756" y="93" width="1" height="18" fill="#00d400"/>
<rect x="764" y="93" width="1" height="18" fill="#00d400"/>
<rect x="772" y="93" width="10" height="1" fill="#00d400"/>
<rect x="772" y="93" width="1" height="18" fill="#00d400"/>
<rect x="781" y="93" width="1" height="18" fill="#00d400"/>
<rect x="789" y="93" width="9" height="1" fill="#00d400"/>
<rect x="789" y="93" width="1" height="18" fill="#00d400"/>
<rect x="797" y="93" width="1" height="18" fill="#00d400"/>
<rect x="806" y="93" width="9" height="1" fill="#00d400"/>
<rect x="806" y="93" width="1" height="18" fill="#00d400"/>
<rect x="814" y="93" width="1" height="18" fill="#00d400"/>
<rect x="822" y="93" width="10" height="1" fill="#00d400"/>
<rect x="822" y="93" width="1" height="18" fill="#00d400"/>
<rect x="831" y="93" width="1" height="18" fill="#00d400"/>
<rect x="839" y="93" width="9" height="1" fill="#00d400"/>
<rect x="839" y="93" width="1" height="18" fill="#00d400"/>
<rect x="847" y="93" width="1" height="18" fill="#00d400"/>
<rect x="856" y="93" width="9" height="1" fill="#00d400"/>
<rect x="856" y="93" width="1" height="18" fill="#00d400"/>
<rect x="864" y="93" width="1" height="18" fill="#00d400"/>
<rect x="872" y="93" width="10" height="1" fill="#00d400"/>
<rect x="872" y="93" width="1" height="18" fill="#00d400"/>
<rect x="881" y="93" width="1" height="18" fill="#00d400"/>
<rect x="889" y="93" width="9" height="1" fill="#00d400"/>
<rect x="889" y="93" width="1" height="18" fill="#00d400"/>
<rect x="897" y="93" width="1" height="18" fill="#00d400"/>
<rect x="906" y="93" width="9" height="1" fill="#00d400"/>
<rect x="906" y="93" width="1" height="18" fill="#00d400"/>
<rect x="914" y="93" width="1" height="18" fill="#00d400"/>
<rect x="922" y="93" width="10" height="1" fill="#00d400"/>
<rect x="922" y="93" width="1" height="18" fill="#00d400"/>
<rect x="931" y="93" width="1" height="18" fill="#00d400"/>
<rect x="939" y="93" width="9" height="1" fill="#00d400"/>
<rect x="939" y="93" width="1" height="18" fill="#00d400"/>
<rect x="947" y="93" width="1" height="18" fill="#00d400"/>
<rect x="956" y="93" width="9" height="1" fill="#00d400"/>
<rect x="956" y="93" width="1" height="18" fill="#00d400"/>
<rect x="964" y="93" width="1" height="18" fill="#00d400"/>
<rect x="972" y="93" width="10" height="1" fill="#00d400"/>
<rect x="972" y="93" width="1" height="18" fill="#00d400"/>
<rect x="981" y="93" width="1" height="18" fill="#00d400"/>
<rect x="989" y="93" width="10" height="1" fill="#00d400"/>
<rect x="989" y="93" width="1" height="18" fill="#00d400"/>
<rect x="998" y="93" width="1" height="18" fill="#00d400"/>
<rect x="1006" y="93" width="9" height="1" fill="#00d400"/>
<rect x="1006" y="93" width="1" height="18" fill="#00d400"/>
<rect x="1014" y="93" width="1" height="18" fill="#00d400"/>
<rect x="1023" y="93" width="9" height="1" fill="#00d400"/>
<rect x="1023" y="93" width="1" height="18" fill="#00d400"/>
<rect x="1031" y="93" width="1" height="18" fill="#00d400"/>
<rect x="1039" y="93" width="10" height="1" fill="#00d400"/>
<rect x="1039" y="93" width="1" height="18" fill="#00d400"/>
<rect x="1048" y="93" width="1" height="18" fill="#00d400"/>
<rect x="1056" y="93" width="9" height="1" fill="#00d400"/>
<rect x="1056" y="93" width="1" height="18" fill="#00d400"/>
<rect x="1064" y="93" width="1" height="18" fill="#00d400"/>
<rect x="1073" y="93" width="9" height="1" fill="#00d400"/>
<rect x="1073" y="93" width="1" height="18" fill="#00d400"/>
<rect x="1081" y="93" width="1" height="18" fill="#00d400"/>
<rect x="1089" y="93" width="10" height="1" fill="#00d400"/>
<rect x="1089" y="93" width="1" height="18" fill="#00d400"/>
<rect x="1098" y="93" width="1" height="18" fill="#00d400"/>
<rect x="1106" y="93" width="9" height="1" fill="#00d400"/>
<rect x="1106" y="93" width="1" height="18" fill="#00d400"/>
<rect x="1114" y="93" width="1" height="18" fill="#00d400"/>
<rect x="1123" y="93" width="9" height="1" fill="#00d400"/>
<rect x="1123" y="93" width="1" height="18" fill="#00d400"/>
<rect x="1131" y="93" width="1" height="18" fill="#00d400"/>
<rect x="1139" y="93" width="10" height="1" fill="#00d400"/>
<rect x="1139" y="93" width="1" height="18" fill="#00d400"/>
<rect x="1148" y="93" width="1" height="18" fill="#00d400"/>
<rect x="1156" y="93" width="9" height="1" fill="#00d400"/>
<rect x="1156" y="93" width="1" height="18" fill="#00d400"/>
<rect x="1164" y="93" width="1" height="18" fill="#00d400"/>
<rect x="1173" y="93" width="9" height="1" fill="#00d400"/>
<rect x="1173" y="93" width="1" height="18" fill="#00d400"/>
<rect x="1181" y="93" width="1" height="18" fill="#00d400"/>
<rect x="1189" y="93" width="10" height="1" fill="#00d400"/>
<rect x="1189" y="93" width="1" height="18" fill="#00d400"/>
<rect x="1198" y="93" width="1" height="18" fill="#00d400"/>
<rect x="1206" y="93" width="9" height="1" fill="#00d400"/>
<rect x="1206" y="93" width="1" height="18" fill="#00d400"/>
<rect x="1214" y="93" width="1" height="18" fill="#00d400"/>
<rect x="1223" y="93" width="9" height="1" fill="#00d400"/>
<rect x="1223" y="93" width="1" height="18" fill="#00d400"/>
<rect x="1231" y="93" width="1" height="18" fill="#00d400"/>
<rect x="1239" y="93" width="10" height="1" fill="#00d400"/>
<rect x="1239" y="93" width="1" height="18" fill="#00d400"/>
<rect x="1248" y="93" width="1" height="18" fill="#00d400"/>
<rect x="1256" y="93" width="10" height="1" fill="#00d400"/>
<rect x="1256" y="93" width="1" height="18" fill="#00d400"/>
<rect x="1265" y="93" width="1" height="18" fill="#00d400"/>
<rect x="1273" y="93" width="9" height="1" fill="#00d400"/>
<rect x="1273" y="93" width="1" height="18" fill="#00d400"/>
<rect x="1281" y="93" width="1" height="18" fill="#00d400"/>
<rect x="1290" y="93" width="9" height="1" fill="#00d400"/>
<rect x="1290" y="93" width="1" height="18" fill="#00d400"/>
<rect x="1298" y="93" width="1" height="18" fill="#00d400"/>
<rect x="1306" y="93" width="10" height="1" fill="#00d400"/>
<rect x="1306" y="93" width="1" height="18" fill="#00d400"/>
<rect x="1315" y="93" width="1" height="18" fill="#00d400"/>
<rect x="1323" y="93" width="9" height="1" fill="#00d400"/>
<rect x="1323" y="93" width="1" height="18" fill="#00d400"/>
<rect x="1331" y="93" width="1" height="18" fill="#00d400"/>
<rect x="1340" y="93" width="9" height="1" fill="#00d400"/>
<rect x="1340" y="93" width="1" height="18" fill="#00d400"/>
<rect x="1348" y="93" width="1" height="18" fill="#00d400"/>
<rect x="1356" y="93" width="10" height="1" fill="#00d400"/>
<rect x="1356" y="93" width="1" height="18" fill="#00d400"/>
<rect x="1365" y="93" width="1" height="18" fill="#00d400"/>
<rect x="1373" y="93" width="9" height="1" fill="#00d400"/>
<rect x="1373" y="93" width="1" height="18" fill="#00d400"/>
<rect x="1381" y="93" width="1" height="18" fill="#00d400"/>
<rect x="1390" y="93" width="9" height="1" fill="#00d400"/>
<rect x="1390" y="93" width="1" height="18" fill="#00d400"/>
<rect x="1398" y="93" width="1" height="18" fill="#00d400"/>
<rect x="1406" y="93" width="10" height="1" fill="#00d400"/>
<rect x="1406" y="93" width="1" height="18" fill="#00d400"/>
<rect x="1415" y="93" width="1" height="18" fill="#00d400"/>
<rect x="1423" y="93" width="9" height="1" fill="#00d400"/>
<rect x="1423" y="93" width="1" height="18" fill="#00d400"/>
<rect x="1431" y="93" width="1" height="18" fill="#00d400"/>
<rect x="1440" y="93" width="9" height="1" fill="#00d400"/>
<rect x="1440" y="93" width="1" height="18" fill="#00d400"/>
<rect x="1448" y="93" width="1" height="18" fill="#00d400"/>
<rect x="1456" y="93" width="10" height="1" fill="#00d400"/>
<rect x="1456" y="93" width="1" height="18" fill="#00d400"/>
<rect x="1465" y="93" width="1" height="18" fill="#00d400"/>
<rect x="1473" y="93" width="9" height="1" fill="#00d400"/>
<rect x="1473" y="93" width="1" height="18" fill="#00d400"/>
<rect x="1481" y="93" width="1" height="18" fill="#00d400"/>
<rect x="1490" y="93" width="9" height="1" fill="#00d400"/>
<rect x="1490" y="93" width="1" height="18" fill="#00d400"/>
<rect x="1498" y="93" width="1" height="18" fill="#00d400"/>
<rect x="1506" y="93" width="10" height="1" fill="#00d400"/>
<rect x="1506" y="93" width="1" height="18" fill="#00d400"/>
<rect x="1515" y="93" width="1" height="18" fill="#00d400"/>
<rect x="1523" y="93" width="10" height="1" fill="#00d400"/>
<rect x="1523" y="93" width="1" height="18" fill="#00d400"/>
<rect x="1532" y="93" width="1" height="18" fill="#00d400"/>
<rect x="1540" y="93" width="9" height="1" fill="#00d400"/>
<rect x="1540" y="93" width="1" height="18" fill="#00d400"/>
<rect x="1548" y="93" width="1" height="18" fill="#00d400"/>
<rect x="1557" y="93" width="9" height="1" fill="#00d400"/>
<rect x="1557" y="93" width="1" height="18" fill="#00d400"/>
<rect x="1565" y="93" width="1" height="18" fill="#00d400"/>
<rect x="1573" y="93" width="10" height="1" fill="#00d400"/>
<rect x="1573" y="93" width="1" height="18" fill="#00d400"/>
<rect x="1582" y="93" width="1" height="18" fill="#00d400"/>
<rect x="1590" y="93" width="9" height="1" fill="#00d400"/>
<rect x="1590" y="93" width="1" height="18" fill="#00d400"/>
<rect x="1598" y="93" width="1" height="18" fill="#00d400"/>
<rect x="1607" y="93" width="9" height="1" fill="#00d400"/>
<rect x="1607" y="93" width="1" height="18" fill="#00d400"/>
<rect x="1615" y="93" width="1" height="18" fill="#00d400"/>
<rect x="1623" y="93" width="10" height="1" fill="#00d400"/>
<rect x="1623" y="93" width="1" height="18" fill="#00d400"/>
<rect x="1632" y="93" width="1" height="18" fill="#00d400"/>
<rect x="1640" y="93" width="9" height="1" fill="#00d400"/>
<rect x="1640" y="93" width="1" height="18" fill="#00d400"/>
<rect x="1648" y="93" width="1" height="18" fill="#00d400"/>
<rect x="1657" y="93" width="9" height="1" fill="#00d400"/>
<rect x="1657" y="93" width="1" height="18" fill="#00d400"/>
<rect x="1665" y="93" width="1" height="18" fill="#00d400"/>
<rect x="1673" y="93" width="10" height="1" fill="#00d400"/>
<rect x="1673" y="93" width="1" height="18" fill="#00d400"/>
<rect x="1682" y="93" width="1" height="18" fill="#00d400"/>
<rect x="1690" y="93" width="9" height="1" fill="#00d400"/>
<rect x="1690" y="93" width="1" height="18" fill="#00d400"/>
<rect x="1698" y="93" width="1" height="18" fill="#00d400"/>
<rect x="1707" y="93" width="9" height="1" fill="#00d400"/>
<rect x="1707" y="93" width="1" height="18" fill="#00d400"/>
<rect x="1715" y="93" width="1" height="18" fill="#00d400"/>
<rect x="1723" y="93" width="10" height="1" fill="#00d400"/>
<rect x="1723" y="93" width="1" height="18" fill="#00d400"/>
<rect x="1732" y="93" width="1" height="18" fill="#00d400"/>
<rect x="1740" y="93" width="9" height="1" fill="#00d400"/>
<rect x="1740" y="93" width="1" height="18" fill="#00d400"/>
<rect x="1748" y="93" width="1" height="18" fill="#00d400"/>
<rect x="1757" y="93" width="9" height="1" fill="#00d400"/>
<rect x="1757" y="93" width="1" height="18" fill="#00d400"/>
<rect x="1765" y="93" width="1" height="18" fill="#00d400"/>
<rect x="1773" y="93" width="10" height="1" fill="#00d400"/>
<rect x="1773" y="93" width="1" height="18" fill="#00d400"/>
<rect x="1782" y="93" width="1" height="18" fill="#00d400"/>
<rect x="1790" y="93" width="10" height="1" fill="#00d400"/>
<rect x="1790" y="93" width="1" height="18" fill="#00d400"/>
<rect x="1799" y="93" width="1" height="18" fill="#00d400"/>
<rect x="1807" y="93" width="9" height="1" fill="#00d400"/>
<rect x="1807" y="93" width="1" height="18" fill="#00d400"/>
<rect x="1815" y="93" width="1" height="18" fill="#00d400"/>
<rect x="1824" y="93" width="9" height="1" fill="#00d400"/>
<rect x="1824" y="93" width="1" height="18" fill="#00d400"/>
<rect x="1832" y="93" width="1" height="18" fill="#00d400"/>
<rect x="1840" y="93" width="10" height="1" fill="#00d400"/>
<rect x="1840" y="93" width="1" height="18" fill="#00d400"/>
<rect x="1849" y="93" width="1" height="18" fill="#00d400"/>
<rect x="1857" y="93" width="9" height="1" fill="#00d400"/>
<rect x="1857" y="93" width="1" height="18" fill="#00d400"/>
<rect x="1865" y="93" width="1" height="18" fill="#00d400"/>
<rect x="1874" y="93" width="4" height="1" fill="#00d400"/>
<rect x="1874" y="93" width="1" height="18" fill="#00d400"/>
<rect x="440" y="116" width="684" height="18" fill="#006800"/>
<rect x="441" y="117" width="682" height="16" fill="#003e00"/>
<rect x="1123" y="133" width="755" height="1" fill="#00d400"/>
<rect x="439" y="116" width="685" height="1" fill="#00d400"/>
<rect x="1123" y="116" width="1" height="18" fill="#00d400"/>
<rect x="589" y="139" width="535" height="18" fill="#006800"/>
<rect x="590" y="140" width="533" height="16" fill="#003e00"/>
<rect x="1657" y="139" width="221" height="18" fill="#006800"/>
<rect x="1658" y="140" width="219" height="16" fill="#003e00"/>
<rect x="439" y="156" width="151" height="1" fill="#00d400"/>
<rect x="1123" y="156" width="535" height="1" fill="#00d400"/>
<rect x="589" y="139" width="535" height="1" fill="#00d400"/>
<rect x="589" y="139" width="1" height="18" fill="#00d400"/>
<rect x="1123" y="139" width="1" height="18" fill="#00d400"/>
<rect x="1657" y="139" width="221" height="1" fill="#00d400"/>
<rect x="1657" y="139" width="1" height="18" fill="#00d400"/>
<path d="M439 162.5H1103M439 179.5H1103M1110 162.5H1878M1110 179.5H1878" stroke="#00d400" stroke-width="1" fill="none" shape-rendering="crispEdges"/>
<path d="M1103 163h1v2h-1zM1103 177h1v2h-1zM1104 165h1v2h-1zM1104 175h1v2h-1zM1105 167h1v2h-1zM1105 173h1v2h-1zM1106 169h1v3h-1zM1106 170h1v3h-1zM1107 172h1v2h-1zM1107 168h1v2h-1zM1108 174h1v2h-1zM1108 166h1v2h-1zM1109 176h1v2h-1zM1109 164h1v2h-1zM1110 178h1v1h-1zM1110 163h1v1h-1z" fill="#00d400"/>
<path d="M758 165h2v1h-2zM759 166h1v1h-1zM759 167h1v1h-1zM759 168h1v1h-1zM759 169h1v1h-1zM759 170h1v1h-1zM757 171h5v1h-5zM765 167h3v1h-3zM768 168h1v1h-1zM765 169h4v1h-4zM764 170h1v1h-1zM768 170h1v1h-1zM764 171h6v1h-6zM772 165h3v1h-3zM771 166h1v1h-1zM775 166h1v1h-1zM771 167h1v1h-1zM775 167h1v1h-1zM771 168h1v1h-1zM775 168h1v1h-1zM771 169h1v1h-1zM775 169h1v1h-1zM771 170h1v1h-1zM775 170h1v1h-1zM772 171h3v1h-3zM779 165h3v1h-3zM778 166h1v1h-1zM782 166h1v1h-1zM778 167h1v1h-1zM782 167h1v1h-1zM779 168h3v1h-3zM778 169h1v1h-1zM782 169h1v1h-1zM778 170h1v1h-1zM782 170h1v1h-1zM779 171h3v1h-3z" fill="#dcdcdc"/>
<path d="M1483 165h3v1h-3zM1482 166h1v1h-1zM1486 166h1v1h-1zM1485 167h1v1h-1zM1484 168h1v1h-1zM1483 169h1v1h-1zM1482 170h1v1h-1zM1482 171h5v1h-5zM1490 165h3v1h-3zM1489 166h1v1h-1zM1493 166h1v1h-1zM1489 167h1v1h-1zM1493 167h1v1h-1zM1490 168h4v1h-4zM1493 169h1v1h-1zM1492 170h1v1h-1zM1489 171h3v1h-3zM1499 165h2v1h-2zM1498 166h1v1h-1zM1497 167h4v1h-4zM1498 168h1v1h-1zM1498 169h1v1h-1zM1498 170h1v1h-1zM1497 171h4v1h-4zM1504 165h3v1h-3zM1503 166h1v1h-1zM1507 166h1v1h-1zM1503 167h1v1h-1zM1507 167h1v1h-1zM1504 168h3v1h-3zM1503 169h1v1h-1zM1507 169h1v1h-1zM1503 170h1v1h-1zM1507 170h1v1h-1zM1504 171h3v1h-3z" fill="#dcdcdc"/>
<rect x="572" y="185" width="18" height="18" fill="#006800"/>
<rect x="573" y="186" width="16" height="16" fill="#003e00"/>
<rect x="1640" y="185" width="18" height="18" fill="#006800"/>
<rect x="1641" y="186" width="16" height="16" fill="#003e00"/>
<rect x="439" y="202" width="134" height="1" fill="#00d400"/>
<rect x="589" y="202" width="1052" height="1" fill="#00d400"/>
<rect x="1657" y="202" width="221" height="1" fill="#00d400"/>
<rect x="572" y="185" width="18" height="1" fill="#00d400"/>
<rect x="572" y="185" width="1" height="18" fill="#00d400"/>
<rect x="589" y="185" width="1" height="18" fill="#00d400"/>
<rect x="1640" y="185" width="18" height="1" fill="#00d400"/>
<rect x="1640" y="185" width="1" height="18" fill="#00d400"/>
<rect x="1657" y="185" width="1" height="18" fill="#00d400"/>
<path d="M439 208.5H1878M439 225.5H1878" stroke="#00d400" stroke-width="1" fill="none" shape-rendering="crispEdges"/>
<path d="" fill="#00d400"/>
<path d="M1148 211h3v1h-3zM1147 212h1v1h-1zM1151 212h1v1h-1zM1147 213h1v1h-1zM1151 213h1v1h-1zM1147 214h1v1h-1zM1151 214h1v1h-1zM1147 215h1v1h-1zM1151 215h1v1h-1zM1147 216h1v1h-1zM1151 216h1v1h-1zM1148 217h3v1h-3zM1155 211h3v1h-3zM1154 212h1v1h-1zM1158 212h1v1h-1zM1154 213h1v1h-1zM1158 213h1v1h-1zM1154 214h1v1h-1zM1158 214h1v1h-1zM1154 215h1v1h-1zM1158 215h1v1h-1zM1154 216h1v1h-1zM1158 216h1v1h-1zM1155 217h3v1h-3zM1162 211h3v1h-3zM1161 212h1v1h-1zM1165 212h1v1h-1zM1161 213h1v1h-1zM1165 213h1v1h-1zM1161 214h1v1h-1zM1165 214h1v1h-1zM1161 215h1v1h-1zM1165 215h1v1h-1zM1161 216h1v1h-1zM1165 216h1v1h-1zM1162 217h3v1h-3zM1169 211h2v1h-2zM1170 212h1v1h-1zM1170 213h1v1h-1zM1170 214h1v1h-1zM1170 215h1v1h-1zM1170 216h1v1h-1zM1168 217h5v1h-5z" fill="#dcdcdc"/>
<rect x="555" y="231" width="18" height="18" fill="#006800"/>
<rect x="556" y="232" width="16" height="16" fill="#003e00"/>
<rect x="1623" y="231" width="18" height="18" fill="#006800"/>
<rect x="1624" y="232" width="16" height="16" fill="#003e00"/>
<rect x="439" y="248" width="117" height="1" fill="#00d400"/>
<rect x="572" y="248" width="1052" height="1" fill="#00d400"/>
<rect x="1640" y="248" width="238" height="1" fill="#00d400"/>
<rect x="555" y="231" width="18" height="1" fill="#00d400"/>
<rect x="555" y="231" width="1" height="18" fill="#00d400"/>
<rect x="572" y="231" width="1" height="18" fill="#00d400"/>
<rect x="1623" y="231" width="18" height="1" fill="#00d400"/>
<rect x="1623" y="231" width="1" height="18" fill="#00d400"/>
<rect x="1640" y="231" width="1" height="18" fill="#00d400"/>
<path d="M439 254.5H552M439 271.5H552M559 254.5H569M559 271.5H569M576 254.5H1620M576 271.5H1620M1627 254.5H1637M1627 271.5H1637M1644 254.5H1878M1644 271.5H1878" stroke="#00d400" stroke-width="1" fill="none" shape-rendering="crispEdges"/>
<path d="M552 255h1v2h-1zM552 269h1v2h-1zM553 257h1v2h-1zM553 267h1v2h-1zM554 259h1v2h-1zM554 265h1v2h-1zM555 261h1v3h-1zM555 262h1v3h-1zM556 264h1v2h-1zM556 260h1v2h-1zM557 266h1v2h-1zM557 258h1v2h-1zM558 268h1v2h-1zM558 256h1v2h-1zM559 270h1v1h-1zM559 255h1v1h-1zM569 255h1v2h-1zM569 269h1v2h-1zM570 257h1v2h-1zM570 267h1v2h-1zM571 259h1v2h-1zM571 265h1v2h-1zM572 261h1v3h-1zM572 262h1v3h-1zM573 264h1v2h-1zM573 260h1v2h-1zM574 266h1v2h-1zM574 258h1v2h-1zM575 268h1v2h-1zM575 256h1v2h-1zM576 270h1v1h-1zM576 255h1v1h-1zM1620 255h1v2h-1zM1620 269h1v2h-1zM1621 257h1v2h-1zM1621 267h1v2h-1zM1622 259h1v2h-1zM1622 265h1v2h-1zM1623 261h1v3h-1zM1623 262h1v3h-1zM1624 264h1v2h-1zM1624 260h1v2h-1zM1625 266h1v2h-1zM1625 258h1v2h-1zM1626 268h1v2h-1zM1626 256h1v2h-1zM1627 270h1v1h-1zM1627 255h1v1h-1zM1637 255h1v2h-1zM1637 269h1v2h-1zM1638 257h1v2h-1zM1638 267h1v2h-1zM1639 259h1v2h-1zM1639 265h1v2h-1zM1640 261h1v3h-1zM1640 262h1v3h-1zM1641 264h1v2h-1zM1641 260h1v2h-1zM1642 266h1v2h-1zM1642 258h1v2h-1zM1643 268h1v2h-1zM1643 256h1v2h-1zM1644 270h1v1h-1zM1644 255h1v1h-1z" fill="#00d400"/>
<path d="M493 257h3v1h-3zM492 258h1v1h-1zM496 258h1v1h-1zM496 259h1v1h-1zM494 260h2v1h-2zM496 261h1v1h-1zM492 262h1v1h-1zM496 262h1v1h-1zM493 263h3v1h-3z" fill="#dcdcdc"/>
<path d="M562 257h3v1h-3zM561 258h1v1h-1zM565 258h1v1h-1zM564 259h1v1h-1zM563 260h1v1h-1zM562 261h1v1h-1zM561 262h1v1h-1zM561 263h5v1h-5z" fill="#dcdcdc"/>
<path d="M1096 257h3v1h-3zM1095 258h1v1h-1zM1099 258h1v1h-1zM1095 259h1v1h-1zM1099 259h1v1h-1zM1095 260h1v1h-1zM1099 260h1v1h-1zM1095 261h1v1h-1zM1099 261h1v1h-1zM1095 262h1v1h-1zM1099 262h1v1h-1zM1096 263h3v1h-3z" fill="#dcdcdc"/>
<path d="M1630 257h2v1h-2zM1631 258h1v1h-1zM1631 259h1v1h-1zM1631 260h1v1h-1zM1631 261h1v1h-1zM1631 262h1v1h-1zM1629 263h5v1h-5z" fill="#dcdcdc"/>
<path d="M1761 257h3v1h-3zM1760 258h1v1h-1zM1764 258h1v1h-1zM1764 259h1v1h-1zM1762 260h2v1h-2zM1764 261h1v1h-1zM1760 262h1v1h-1zM1764 262h1v1h-1zM1761 263h3v1h-3z" fill="#dcdcdc"/>
<rect x="605" y="277" width="18" height="18" fill="#006800"/>
<rect x="606" y="278" width="16" height="16" fill="#003e00"/>
<rect x="639" y="277" width="17" height="18" fill="#006800"/>
<rect x="640" y="278" width="15" height="16" fill="#003e00"/>
<rect x="672" y="277" width="18" height="18" fill="#006800"/>
<rect x="673" y="278" width="16" height="16" fill="#003e00"/>
<rect x="705" y="277" width="18" height="18" fill="#006800"/>
<rect x="706" y="278" width="16" height="16" fill="#003e00"/>
<rect x="739" y="277" width="18" height="18" fill="#006800"/>
<rect x="740" y="278" width="16" height="16" fill="#003e00"/>
<rect x="772" y="277" width="18" height="18" fill="#006800"/>
<rect x="773" y="278" width="16" height="16" fill="#003e00"/>
<rect x="806" y="277" width="17" height="18" fill="#006800"/>
<rect x="807" y="278" width="15" height="16" fill="#003e00"/>
<rect x="839" y="277" width="18" height="18" fill="#006800"/>
<rect x="840" y="278" width="16" height="16" fill="#003e00"/>
<rect x="872" y="277" width="18" height="18" fill="#006800"/>
<rect x="873" y="278" width="16" height="16" fill="#003e00"/>
<rect x="906" y="277" width="17" height="18" fill="#006800"/>
<rect x="907" y="278" width="15" height="16" fill="#003e00"/>
<rect x="939" y="277" width="18" height="18" fill="#006800"/>
<rect x="940" y="278" width="16" height="16" fill="#003e00"/>
<rect x="972" y="277" width="18" height="18" fill="#006800"/>
<rect x="973" y="278" width="16" height="16" fill="#003e00"/>
<rect x="1006" y="277" width="18" height="18" fill="#006800"/>
<rect x="1007" y="278" width="16" height="16" fill="#003e00"/>
<rect x="1039" y="277" width="18" height="18" fill="#006800"/>
<rect x="1040" y="278" width="16" height="16" fill="#003e00"/>
<rect x="1073" y="277" width="17" height="18" fill="#006800"/>
<rect x="1074" y="278" width="15" height="16" fill="#003e00"/>
<rect x="1106" y="277" width="18" height="18" fill="#006800"/>
<rect x="1107" y="278" width="16" height="16" fill="#003e00"/>
<rect x="1673" y="277" width="18" height="18" fill="#006800"/>
<rect x="1674" y="278" width="16" height="16" fill="#003e00"/>
<rect x="1707" y="277" width="17" height="18" fill="#006800"/>
<rect x="1708" y="278" width="15" height="16" fill="#003e00"/>
<rect x="1740" y="277" width="18" height="18" fill="#006800"/>
<rect x="1741" y="278" width="16" height="16" fill="#003e00"/>
<rect x="1773" y="277" width="18" height="18" fill="#006800"/>
<rect x="1774" y="278" width="16" height="16" fill="#003e00"/>
<rect x="1807" y="277" width="18" height="18" fill="#006800"/>
<rect x="1808" y="278" width="16" height="16" fill="#003e00"/>
<rect x="1840" y="277" width="18" height="18" fill="#006800"/>
<rect x="1841" y="278" width="16" height="16" fill="#003e00"/>
<rect x="1874" y="277" width="4" height="18" fill="#006800"/>
<rect x="1875" y="278" width="2" height="16" fill="#003e00"/>
<rect x="439" y="294" width="167" height="1" fill="#00d400"/>
<rect x="622" y="294" width="18" height="1" fill="#00d400"/>
<rect x="655" y="294" width="18" height="1" fill="#00d400"/>
<rect x="689" y="294" width="17" height="1" fill="#00d400"/>
<rect x="722" y="294" width="18" height="1" fill="#00d400"/>
<rect x="756" y="294" width="17" height="1" fill="#00d400"/>
<rect x="789" y="294" width="18" height="1" fill="#00d400"/>
<rect x="822" y="294" width="18" height="1" fill="#00d400"/>
<rect x="856" y="294" width="17" height="1" fill="#00d400"/>
<rect x="889" y="294" width="18" height="1" fill="#00d400"/>
<rect x="922" y="294" width="18" height="1" fill="#00d400"/>
<rect x="956" y="294" width="17" height="1" fill="#00d400"/>
<rect x="989" y="294" width="18" height="1" fill="#00d400"/>
<rect x="1023" y="294" width="17" height="1" fill="#00d400"/>
<rect x="1056" y="294" width="18" height="1" fill="#00d400"/>
<rect x="1089" y="294" width="18" height="1" fill="#00d400"/>
<rect x="1123" y="294" width="551" height="1" fill="#00d400"/>
<rect x="1690" y="294" width="18" height="1" fill="#00d400"/>
<rect x="1723" y="294" width="18" height="1" fill="#00d400"/>
<rect x="1757" y="294" width="17" height="1" fill="#00d400"/>
<rect x="1790" y="294" width="18" height="1" fill="#00d400"/>
<rect x="1824" y="294" width="17" height="1" fill="#00d400"/>
<rect x="1857" y="294" width="18" height="1" fill="#00d400"/>
<rect x="605" y="277" width="18" height="1" fill="#00d400"/>
<rect x="605" y="277" width="1" height="18" fill="#00d400"/>
<rect x="622" y="277" width="1" height="18" fill="#00d400"/>
<rect x="639" y="277" width="17" height="1" fill="#00d400"/>
<rect x="639" y="277" width="1" height="18" fill="#00d400"/>
<rect x="655" y="277" width="1" height="18" fill="#00d400"/>
<rect x="672" y="277" width="18" height="1" fill="#00d400"/>
<rect x="672" y="277" width="1" height="18" fill="#00d400"/>
<rect x="689" y="277" width="1" height="18" fill="#00d400"/>
<rect x="705" y="277" width="18" height="1" fill="#00d400"/>
<rect x="705" y="277" width="1" height="18" fill="#00d400"/>
<rect x="722" y="277" width="1" height="18" fill="#00d400"/>
<rect x="739" y="277" width="18" height="1" fill="#00d400"/>
<rect x="739" y="277" width="1" height="18" fill="#00d400"/>
<rect x="756" y="277" width="1" height="18" fill="#00d400"/>
<rect x="772" y="277" width="18" height="1" fill="#00d400"/>
<rect x="772" y="277" width="1" height="18" fill="#00d400"/>
<rect x="789" y="277" width="1" height="18" fill="#00d400"/>
<rect x="806" y="277" width="17" height="1" fill="#00d400"/>
<rect x="806" y="277" width="1" height="18" fill="#00d400"/>
<rect x="822" y="277" width="1" height="18" fill="#00d400"/>
<rect x="839" y="277" width="18" height="1" fill="#00d400"/>
<rect x="839" y="277" width="1" height="18" fill="#00d400"/>
<rect x="856" y="277" width="1" height="18" fill="#00d400"/>
<rect x="872" y="277" width="18" height="1" fill="#00d400"/>
<rect x="872" y="277" width="1" height="18" fill="#00d400"/>
<rect x="889" y="277" width="1" height="18" fill="#00d400"/>
<rect x="906" y="277" width="17" height="1" fill="#00d400"/>
<rect x="906" y="277" width="1" height="18" fill="#00d400"/>
<rect x="922" y="277" width="1" height="18" fill="#00d400"/>
<rect x="939" y="277" width="18" height="1" fill="#00d400"/>
<rect x="939" y="277" width="1" height="18" fill="#00d400"/>
<rect x="956" y="277" width="1" height="18" fill="#00d400"/>
<rect x="972" y="277" width="18" height="1" fill="#00d400"/>
<rect x="972" y="277" width="1" height="18" fill="#00d400"/>
<rect x="989" y="277" width="1" height="18" fill="#00d400"/>
<rect x="1006" y="277" width="18" height="1" fill="#00d400"/>
<rect x="1006" y="277" width="1" height="18" fill="#00d400"/>
<rect x="1023" y="277" width="1" height="18" fill="#00d400"/>
<rect x="1039" y="277" width="18" height="1" fill="#00d400"/>
<rect x="1039" y="277" width="1" height="18" fill="#00d400"/>
<rect x="1056" y="277" width="1" height="18" fill="#00d400"/>
<rect x="1073" y="277" width="17" height="1" fill="#00d400"/>
<rect x="1073" y="277" width="1" height="18" fill="#00d400"/>
<rect x="1089" y="277" width="1" height="18" fill="#00d400"/>
<rect x="1106" y="277" width="18" height="1" fill="#00d400"/>
<rect x="1106" y="277" width="1" height="18" fill="#00d400"/>
<rect x="1123" y="277" width="1" height="18" fill="#00d400"/>
<rect x="1673" y="277" width="18" height="1" fill="#00d400"/>
<rect x="1673" y="277" width="1" height="18" fill="#00d400"/>
<rect x="1690" y="277" width="1" height="18" fill="#00d400"/>
<rect x="1707" y="277" width="17" height="1" fill="#00d400"/>
<rect x="1707" y="277" width="1" height="18" fill="#00d400"/>
<rect x="1723" y="277" width="1" height="18" fill="#00d400"/>
<rect x="1740" y="277" width="18" height="1" fill="#00d400"/>
<rect x="1740" y="277" width="1" height="18" fill="#00d400"/>
<rect x="1757" y="277" width="1" height="18" fill="#00d400"/>
<rect x="1773" y="277" width="18" height="1" fill="#00d400"/>
<rect x="1773" y="277" width="1" height="18" fill="#00d400"/>
<rect x="1790" y="277" width="1" height="18" fill="#00d400"/>
<rect x="1807" y="277" width="18" height="1" fill="#00d400"/>
<rect x="1807" y="277" width="1" height="18" fill="#00d400"/>
<rect x="1824" y="277" width="1" height="18" fill="#00d400"/>
<rect x="1840" y="277" width="18" height="1" fill="#00d400"/>
<rect x="1840" y="277" width="1" height="18" fill="#00d400"/>
<rect x="1857" y="277" width="1" height="18" fill="#00d400"/>
<rect x="1874" y="277" width="4" height="1" fill="#00d400"/>
<rect x="1874" y="277" width="1" height="18" fill="#00d400"/>
<rect x="440" y="300" width="150" height="18" fill="#006800"/>
<rect x="441" y="301" width="148" height="16" fill="#003e00"/>
<rect x="1123" y="300" width="535" height="18" fill="#006800"/>
<rect x="1124" y="301" width="533" height="16" fill="#003e00"/>
<rect x="589" y="317" width="535" height="1" fill="#00d400"/>
<rect x="1657" y="317" width="221" height="1" fill="#00d400"/>
<rect x="439" y="300" width="151" height="1" fill="#00d400"/>
<rect x="589" y="300" width="1" height="18" fill="#00d400"/>
<rect x="1123" y="300" width="535" height="1" fill="#00d400"/>
<rect x="1123" y="300" width="1" height="18" fill="#00d400"/>
<rect x="1657" y="300" width="1" height="18" fill="#00d400"/>
<path d="M439 323.5H652M439 340.5H652M659 323.5H686M659 340.5H686M693 323.5H719M693 340.5H719M726 323.5H753M726 340.5H753M760 323.5H786M760 340.5H786M793 323.5H819M793 340.5H819M826 323.5H919M826 340.5H919M926 323.5H953M926 340.5H953M960 323.5H1020M960 340.5H1020M1027 323.5H1720M1027 340.5H1720M1727 323.5H1754M1727 340.5H1754M1761 323.5H1787M1761 340.5H1787M1794 323.5H1821M1794 340.5H1821M1828 323.5H1854M1828 340.5H1854M1861 323.5H1878M1861 340.5H1878" stroke="#00d400" stroke-width="1" fill="none" shape-rendering="crispEdges"/>
<path d="M652 324h1v2h-1zM652 338h1v2h-1zM653 326h1v2h-1zM653 336h1v2h-1zM654 328h1v2h-1zM654 334h1v2h-1zM655 330h1v3h-1zM655 331h1v3h-1zM656 333h1v2h-1zM656 329h1v2h-1zM657 335h1v2h-1zM657 327h1v2h-1zM658 337h1v2h-1zM658 325h1v2h-1zM659 339h1v1h-1zM659 324h1v1h-1zM686 324h1v2h-1zM686 338h1v2h-1zM687 326h1v2h-1zM687 336h1v2h-1zM688 328h1v2h-1zM688 334h1v2h-1zM689 330h1v3h-1zM689 331h1v3h-1zM690 333h1v2h-1zM690 329h1v2h-1zM691 335h1v2h-1zM691 327h1v2h-1zM692 337h1v2h-1zM692 325h1v2h-1zM693 339h1v1h-1zM693 324h1v1h-1zM719 324h1v2h-1zM719 338h1v2h-1zM720 326h1v2h-1zM720 336h1v2h-1zM721 328h1v2h-1zM721 334h1v2h-1zM722 330h1v3h-1zM722 331h1v3h-1zM723 333h1v2h-1zM723 329h1v2h-1zM724 335h1v2h-1zM724 327h1v2h-1zM725 337h1v2h-1zM725 325h1v2h-1zM726 339h1v1h-1zM726 324h1v1h-1zM753 324h1v2h-1zM753 338h1v2h-1zM754 326h1v2h-1zM754 336h1v2h-1zM755 328h1v2h-1zM755 334h1v2h-1zM756 330h1v3h-1zM756 331h1v3h-1zM757 333h1v2h-1zM757 329h1v2h-1zM758 335h1v2h-1zM758 327h1v2h-1zM759 337h1v2h-1zM759 325h1v2h-1zM760 339h1v1h-1zM760 324h1v1h-1zM786 324h1v2h-1zM786 338h1v2h-1zM787 326h1v2h-1zM787 336h1v2h-1zM788 328h1v2h-1zM788 334h1v2h-1zM789 330h1v3h-1zM789 331h1v3h-1zM790 333h1v2h-1zM790 329h1v2h-1zM791 335h1v2h-1zM791 327h1v2h-1zM792 337h1v2h-1zM792 325h1v2h-1zM793 339h1v1h-1zM793 324h1v1h-1zM819 324h1v2h-1zM819 338h1v2h-1zM820 326h1v2h-1zM820 336h1v2h-1zM821 328h1v2h-1zM821 334h1v2h-1zM822 330h1v3h-1zM822 331h1v3h-1zM823 333h1v2h-1zM823 329h1v2h-1zM824 335h1v2h-1zM824 327h1v2h-1zM825 337h1v2h-1zM825 325h1v2h-1zM826 339h1v1h-1zM826 324h1v1h-1zM919 324h1v2h-1zM919 338h1v2h-1zM920 326h1v2h-1zM920 336h1v2h-1zM921 328h1v2h-1zM921 334h1v2h-1zM922 330h1v3h-1zM922 331h1v3h-1zM923 333h1v2h-1zM923 329h1v2h-1zM924 335h1v2h-1zM924 327h1v2h-1zM925 337h1v2h-1zM925 325h1v2h-1zM926 339h1v1h-1zM926 324h1v1h-1zM953 324h1v2h-1zM953 338h1v2h-1zM954 326h1v2h-1zM954 336h1v2h-1zM955 328h1v2h-1zM955 334h1v2h-1zM956 330h1v3h-1zM956 331h1v3h-1zM957 333h1v2h-1zM957 329h1v2h-1zM958 335h1v2h-1zM958 327h1v2h-1zM959 337h1v2h-1zM959 325h1v2h-1zM960 339h1v1h-1zM960 324h1v1h-1zM1020 324h1v2h-1zM1020 338h1v2h-1zM1021 326h1v2h-1zM1021 336h1v2h-1zM1022 328h1v2h-1zM1022 334h1v2h-1zM1023 330h1v3h-1zM1023 331h1v3h-1zM1024 333h1v2h-1zM1024 329h1v2h-1zM1025 335h1v2h-1zM1025 327h1v2h-1zM1026 337h1v2h-1zM1026 325h1v2h-1zM1027 339h1v1h-1zM1027 324h1v1h-1zM1720 324h1v2h-1zM1720 338h1v2h-1zM1721 326h1v2h-1zM1721 336h1v2h-1zM1722 328h1v2h-1zM1722 334h1v2h-1zM1723 330h1v3h-1zM1723 331h1v3h-1zM1724 333h1v2h-1zM1724 329h1v2h-1zM1725 335h1v2h-1zM1725 327h1v2h-1zM1726 337h1v2h-1zM1726 325h1v2h-1zM1727 339h1v1h-1zM1727 324h1v1h-1zM1754 324h1v2h-1zM1754 338h1v2h-1zM1755 326h1v2h-1zM1755 336h1v2h-1zM1756 328h1v2h-1zM1756 334h1v2h-1zM1757 330h1v3h-1zM1757 331h1v3h-1zM1758 333h1v2h-1zM1758 329h1v2h-1zM1759 335h1v2h-1zM1759 327h1v2h-1zM1760 337h1v2h-1zM1760 325h1v2h-1zM1761 339h1v1h-1zM1761 324h1v1h-1zM1787 324h1v2h-1zM1787 338h1v2h-1zM1788 326h1v2h-1zM1788 336h1v2h-1zM1789 328h1v2h-1zM1789 334h1v2h-1zM1790 330h1v3h-1zM1790 331h1v3h-1zM1791 333h1v2h-1zM1791 329h1v2h-1zM1792 335h1v2h-1zM1792 327h1v2h-1zM1793 337h1v2h-1zM1793 325h1v2h-1zM1794 339h1v1h-1zM1794 324h1v1h-1zM1821 324h1v2h-1zM1821 338h1v2h-1zM1822 326h1v2h-1zM1822 336h1v2h-1zM1823 328h1v2h-1zM1823 334h1v2h-1zM1824 330h1v3h-1zM1824 331h1v3h-1zM1825 333h1v2h-1zM1825 329h1v2h-1zM1826 335h1v2h-1zM1826 327h1v2h-1zM1827 337h1v2h-1zM1827 325h1v2h-1zM1828 339h1v1h-1zM1828 324h1v1h-1zM1854 324h1v2h-1zM1854 338h1v2h-1zM1855 326h1v2h-1zM1855 336h1v2h-1zM1856 328h1v2h-1zM1856 334h1v2h-1zM1857 330h1v3h-1zM1857 331h1v3h-1zM1858 333h1v2h-1zM1858 329h1v2h-1zM1859 335h1v2h-1zM1859 327h1v2h-1zM1860 337h1v2h-1zM1860 325h1v2h-1zM1861 339h1v1h-1zM1861 324h1v1h-1z" fill="#00d400"/>
<path d="M543 326h3v1h-3zM542 327h1v1h-1zM546 327h1v1h-1zM542 328h1v1h-1zM546 328h1v1h-1zM542 329h1v1h-1zM546 329h1v1h-1zM542 330h1v1h-1zM546 330h1v1h-1zM542 331h1v1h-1zM546 331h1v1h-1zM543 332h3v1h-3z" fill="#dcdcdc"/>
<path d="M670 326h3v1h-3zM669 327h1v1h-1zM673 327h1v1h-1zM673 328h1v1h-1zM671 329h2v1h-2zM673 330h1v1h-1zM669 331h1v1h-1zM673 331h1v1h-1zM670 332h3v1h-3z" fill="#dcdcdc"/>
<path d="M704 326h3v1h-3zM703 327h1v1h-1zM707 327h1v1h-1zM703 328h1v1h-1zM707 328h1v1h-1zM703 329h1v1h-1zM707 329h1v1h-1zM703 330h1v1h-1zM707 330h1v1h-1zM703 331h1v1h-1zM707 331h1v1h-1zM704 332h3v1h-3z" fill="#dcdcdc"/>
<path d="M737 326h2v1h-2zM738 327h1v1h-1zM738 328h1v1h-1zM738 329h1v1h-1zM738 330h1v1h-1zM738 331h1v1h-1zM736 332h5v1h-5z" fill="#dcdcdc"/>
<path d="M771 326h3v1h-3zM770 327h1v1h-1zM774 327h1v1h-1zM770 328h1v1h-1zM774 328h1v1h-1zM770 329h1v1h-1zM774 329h1v1h-1zM770 330h1v1h-1zM774 330h1v1h-1zM770 331h1v1h-1zM774 331h1v1h-1zM771 332h3v1h-3z" fill="#dcdcdc"/>
<path d="M804 326h3v1h-3zM803 327h1v1h-1zM807 327h1v1h-1zM806 328h1v1h-1zM805 329h1v1h-1zM804 330h1v1h-1zM803 331h1v1h-1zM803 332h5v1h-5z" fill="#dcdcdc"/>
<path d="M870 326h2v1h-2zM871 327h1v1h-1zM871 328h1v1h-1zM871 329h1v1h-1zM871 330h1v1h-1zM871 331h1v1h-1zM869 332h5v1h-5z" fill="#dcdcdc"/>
<path d="M937 326h3v1h-3zM936 327h1v1h-1zM940 327h1v1h-1zM940 328h1v1h-1zM938 329h2v1h-2zM940 330h1v1h-1zM936 331h1v1h-1zM940 331h1v1h-1zM937 332h3v1h-3z" fill="#dcdcdc"/>
<path d="M988 326h2v1h-2zM989 327h1v1h-1zM989 328h1v1h-1zM989 329h1v1h-1zM989 330h1v1h-1zM989 331h1v1h-1zM987 332h5v1h-5z" fill="#dcdcdc"/>
<path d="M1371 326h3v1h-3zM1370 327h1v1h-1zM1374 327h1v1h-1zM1370 328h1v1h-1zM1374 328h1v1h-1zM1370 329h1v1h-1zM1374 329h1v1h-1zM1370 330h1v1h-1zM1374 330h1v1h-1zM1370 331h1v1h-1zM1374 331h1v1h-1zM1371 332h3v1h-3z" fill="#dcdcdc"/>
<path d="M1738 326h3v1h-3zM1737 327h1v1h-1zM1741 327h1v1h-1zM1741 328h1v1h-1zM1739 329h2v1h-2zM1741 330h1v1h-1zM1737 331h1v1h-1zM1741 331h1v1h-1zM1738 332h3v1h-3z" fill="#dcdcdc"/>
<path d="M1772 326h2v1h-2zM1773 327h1v1h-1zM1773 328h1v1h-1zM1773 329h1v1h-1zM1773 330h1v1h-1zM1773 331h1v1h-1zM1771 332h5v1h-5z" fill="#dcdcdc"/>
<path d="M1805 326h3v1h-3zM1804 327h1v1h-1zM1808 327h1v1h-1zM1807 328h1v1h-1zM1806 329h1v1h-1zM1805 330h1v1h-1zM1804 331h1v1h-1zM1804 332h5v1h-5z" fill="#dcdcdc"/>
<path d="M1839 326h3v1h-3zM1838 327h1v1h-1zM1842 327h1v1h-1zM1842 328h1v1h-1zM1840 329h2v1h-2zM1842 330h1v1h-1zM1838 331h1v1h-1zM1842 331h1v1h-1zM1839 332h3v1h-3z" fill="#dcdcdc"/>
<path d="M1869 326h2v1h-2zM1870 327h1v1h-1zM1870 328h1v1h-1zM1870 329h1v1h-1zM1870 330h1v1h-1zM1870 331h1v1h-1zM1868 332h5v1h-5z" fill="#dcdcdc"/>
<rect x="655" y="346" width="35" height="18" fill="#006800"/>
<rect x="656" y="347" width="33" height="16" fill="#003e00"/>
<rect x="789" y="346" width="34" height="18" fill="#006800"/>
<rect x="790" y="347" width="32" height="16" fill="#003e00"/>
<rect x="922" y="346" width="35" height="18" fill="#006800"/>
<rect x="923" y="347" width="33" height="16" fill="#003e00"/>
<rect x="1723" y="346" width="35" height="18" fill="#006800"/>
<rect x="1724" y="347" width="33" height="16" fill="#003e00"/>
<rect x="1790" y="346" width="68" height="18" fill="#006800"/>
<rect x="1791" y="347" width="66" height="16" fill="#003e00"/>
<rect x="439" y="363" width="217" height="1" fill="#00d400"/>
<rect x="689" y="363" width="101" height="1" fill="#00d400"/>
<rect x="822" y="363" width="101" height="1" fill="#00d400"/>
<rect x="956" y="363" width="768" height="1" fill="#00d400"/>
<rect x="1757" y="363" width="34" height="1" fill="#00d400"/>
<rect x="1857" y="363" width="21" height="1" fill="#00d400"/>
<rect x="655" y="346" width="35" height="1" fill="#00d400"/>
<rect x="655" y="346" width="1" height="18" fill="#00d400"/>
<rect x="689" y="346" width="1" height="18" fill="#00d400"/>
<rect x="789" y="346" width="34" height="1" fill="#00d400"/>
<rect x="789" y="346" width="1" height="18" fill="#00d400"/>
<rect x="822" y="346" width="1" height="18" fill="#00d400"/>
<rect x="922" y="346" width="35" height="1" fill="#00d400"/>
<rect x="922" y="346" width="1" height="18" fill="#00d400"/>
<rect x="956" y="346" width="1" height="18" fill="#00d400"/>
<rect x="1723" y="346" width="35" height="1" fill="#00d400"/>
<rect x="1723" y="346" width="1" height="18" fill="#00d400"/>
<rect x="1757" y="346" width="1" height="18" fill="#00d400"/>
<rect x="1790" y="346" width="68" height="1" fill="#00d400"/>
<rect x="1790" y="346" width="1" height="18" fill="#00d400"/>
<rect x="1857" y="346" width="1" height="18" fill="#00d400"/>
<rect x="655" y="369" width="35" height="18" fill="#006800"/>
<rect x="656" y="370" width="33" height="16" fill="#003e00"/>
<rect x="722" y="369" width="35" height="18" fill="#006800"/>
<rect x="723" y="370" width="33" height="16" fill="#003e00"/>
<rect x="822" y="369" width="202" height="18" fill="#006800"/>
<rect x="823" y="370" width="200" height="16" fill="#003e00"/>
<rect x="1723" y="369" width="68" height="18" fill="#006800"/>
<rect x="1724" y="370" width="66" height="16" fill="#003e00"/>
<rect x="1824" y="369" width="54" height="18" fill="#006800"/>
<rect x="1825" y="370" width="52" height="16" fill="#003e00"/>
<rect x="439" y="386" width="217" height="1" fill="#00d400"/>
<rect x="689" y="386" width="34" height="1" fill="#00d400"/>
<rect x="756" y="386" width="67" height="1" fill="#00d400"/>
<rect x="1023" y="386" width="701" height="1" fill="#00d400"/>
<rect x="1790" y="386" width="35" height="1" fill="#00d400"/>
<rect x="655" y="369" width="35" height="1" fill="#00d400"/>
<rect x="655" y="369" width="1" height="18" fill="#00d400"/>
<rect x="689" y="369" width="1" height="18" fill="#00d400"/>
<rect x="722" y="369" width="35" height="1" fill="#00d400"/>
<rect x="722" y="369" width="1" height="18" fill="#00d400"/>
<rect x="756" y="369" width="1" height="18" fill="#00d400"/>
<rect x="822" y="369" width="202" height="1" fill="#00d400"/>
<rect x="822" y="369" width="1" height="18" fill="#00d400"/>
<rect x="1023" y="369" width="1" height="18" fill="#00d400"/>
<rect x="1723" y="369" width="68" height="1" fill="#00d400"/>
<rect x="1723" y="369" width="1" height="18" fill="#00d400"/>
<rect x="1790" y="369" width="1" height="18" fill="#00d400"/>
<rect x="1824" y="369" width="54" height="1" fill="#00d400"/>
<rect x="1824" y="369" width="1" height="18" fill="#00d400"/>
<rect x="440" y="392" width="150" height="18" fill="#006800"/>
<rect x="441" y="393" width="148" height="16" fill="#003e00"/>
<rect x="1089" y="392" width="569" height="18" fill="#006800"/>
<rect x="1090" y="393" width="567" height="16" fill="#003e00"/>
<rect x="589" y="409" width="501" height="1" fill="#00d400"/>
<rect x="1657" y="409" width="221" height="1" fill="#00d400"/>
<rect x="439" y="392" width="151" height="1" fill="#00d400"/>
<rect x="589" y="392" width="1" height="18" fill="#00d400"/>
<rect x="1089" y="392" width="569" height="1" fill="#00d400"/>
<rect x="1089" y="392" width="1" height="18" fill="#00d400"/>
<rect x="1657" y="392" width="1" height="18" fill="#00d400"/>
<rect x="438" y="433" width="1440" height="22" fill="#b8a800"/>
<rect x="438" y="433" width="1" height="22" fill="#e8d800"/>
<rect x="1875" y="433" width="3" height="22" fill="#dccc00"/>
<rect x="439" y="450" width="1" height="5" fill="#000000"/>
<rect x="455" y="450" width="1" height="5" fill="#000000"/>
<rect x="472" y="450" width="1" height="5" fill="#000000"/>
<rect x="489" y="446" width="1" height="9" fill="#000000"/>
<rect x="505" y="450" width="1" height="5" fill="#000000"/>
<rect x="522" y="450" width="1" height="5" fill="#000000"/>
<rect x="539" y="450" width="1" height="5" fill="#000000"/>
<rect x="555" y="450" width="1" height="5" fill="#000000"/>
<rect x="572" y="432" width="13" height="1" fill="#b8a800"/>
<rect x="572" y="433" width="1" height="22" fill="#a8a8a8"/>
<path d="M576 435h3v1h-3zM575 436h1v1h-1zM579 436h1v1h-1zM575 437h1v1h-1zM579 437h1v1h-1zM575 438h1v1h-1zM579 438h1v1h-1zM575 439h1v1h-1zM579 439h1v1h-1zM575 440h1v1h-1zM579 440h1v1h-1zM576 441h3v1h-3z" fill="#000000"/>
<rect x="589" y="450" width="1" height="5" fill="#000000"/>
<rect x="605" y="450" width="1" height="5" fill="#000000"/>
<rect x="622" y="450" width="1" height="5" fill="#000000"/>
<rect x="639" y="450" width="1" height="5" fill="#000000"/>
<rect x="655" y="446" width="1" height="9" fill="#000000"/>
<rect x="672" y="450" width="1" height="5" fill="#000000"/>
<rect x="689" y="450" width="1" height="5" fill="#000000"/>
<rect x="705" y="450" width="1" height="5" fill="#000000"/>
<rect x="722" y="450" width="1" height="5" fill="#000000"/>
<rect x="739" y="432" width="19" height="1" fill="#b8a800"/>
<rect x="739" y="433" width="1" height="22" fill="#a8a8a8"/>
<path d="M743 435h3v1h-3zM742 436h1v1h-1zM746 436h1v1h-1zM745 437h1v1h-1zM744 438h1v1h-1zM743 439h1v1h-1zM742 440h1v1h-1zM742 441h5v1h-5zM750 435h3v1h-3zM749 436h1v1h-1zM753 436h1v1h-1zM749 437h1v1h-1zM753 437h1v1h-1zM749 438h1v1h-1zM753 438h1v1h-1zM749 439h1v1h-1zM753 439h1v1h-1zM749 440h1v1h-1zM753 440h1v1h-1zM750 441h3v1h-3z" fill="#000000"/>
<rect x="756" y="450" width="1" height="5" fill="#000000"/>
<rect x="772" y="450" width="1" height="5" fill="#000000"/>
<rect x="789" y="450" width="1" height="5" fill="#000000"/>
<rect x="806" y="450" width="1" height="5" fill="#000000"/>
<rect x="822" y="446" width="1" height="9" fill="#000000"/>
<rect x="839" y="450" width="1" height="5" fill="#000000"/>
<rect x="856" y="450" width="1" height="5" fill="#000000"/>
<rect x="872" y="450" width="1" height="5" fill="#000000"/>
<rect x="889" y="450" width="1" height="5" fill="#000000"/>
<rect x="906" y="432" width="19" height="1" fill="#b8a800"/>
<rect x="906" y="433" width="1" height="22" fill="#a8a8a8"/>
<path d="M912 435h1v1h-1zM911 436h2v1h-2zM910 437h1v1h-1zM912 437h1v1h-1zM909 438h1v1h-1zM912 438h1v1h-1zM909 439h5v1h-5zM912 440h1v1h-1zM911 441h3v1h-3zM917 435h3v1h-3zM916 436h1v1h-1zM920 436h1v1h-1zM916 437h1v1h-1zM920 437h1v1h-1zM916 438h1v1h-1zM920 438h1v1h-1zM916 439h1v1h-1zM920 439h1v1h-1zM916 440h1v1h-1zM920 440h1v1h-1zM917 441h3v1h-3z" fill="#000000"/>
<rect x="922" y="450" width="1" height="5" fill="#000000"/>
<rect x="939" y="450" width="1" height="5" fill="#000000"/>
<rect x="956" y="450" width="1" height="5" fill="#000000"/>
<rect x="972" y="450" width="1" height="5" fill="#000000"/>
<rect x="989" y="446" width="1" height="9" fill="#000000"/>
<rect x="1006" y="450" width="1" height="5" fill="#000000"/>
<rect x="1023" y="450" width="1" height="5" fill="#000000"/>
<rect x="1039" y="450" width="1" height="5" fill="#000000"/>
<rect x="1056" y="450" width="1" height="5" fill="#000000"/>
<rect x="1073" y="432" width="19" height="1" fill="#b8a800"/>
<rect x="1073" y="433" width="1" height="22" fill="#a8a8a8"/>
<path d="M1077 435h4v1h-4zM1077 436h1v1h-1zM1076 437h1v1h-1zM1076 438h4v1h-4zM1076 439h1v1h-1zM1080 439h1v1h-1zM1076 440h1v1h-1zM1080 440h1v1h-1zM1077 441h3v1h-3zM1084 435h3v1h-3zM1083 436h1v1h-1zM1087 436h1v1h-1zM1083 437h1v1h-1zM1087 437h1v1h-1zM1083 438h1v1h-1zM1087 438h1v1h-1zM1083 439h1v1h-1zM1087 439h1v1h-1zM1083 440h1v1h-1zM1087 440h1v1h-1zM1084 441h3v1h-3z" fill="#000000"/>
<rect x="1089" y="450" width="1" height="5" fill="#000000"/>
<rect x="1106" y="450" width="1" height="5" fill="#000000"/>
<rect x="1123" y="450" width="1" height="5" fill="#000000"/>
<rect x="1139" y="450" width="1" height="5" fill="#000000"/>
<rect x="1156" y="446" width="1" height="9" fill="#000000"/>
<rect x="1173" y="450" width="1" height="5" fill="#000000"/>
<rect x="1189" y="450" width="1" height="5" fill="#000000"/>
<rect x="1206" y="450" width="1" height="5" fill="#000000"/>
<rect x="1223" y="450" width="1" height="5" fill="#000000"/>
<rect x="1239" y="432" width="19" height="1" fill="#b8a800"/>
<rect x="1239" y="433" width="1" height="22" fill="#a8a8a8"/>
<path d="M1243 435h3v1h-3zM1242 436h1v1h-1zM1246 436h1v1h-1zM1242 437h1v1h-1zM1246 437h1v1h-1zM1243 438h3v1h-3zM1242 439h1v1h-1zM1246 439h1v1h-1zM1242 440h1v1h-1zM1246 440h1v1h-1zM1243 441h3v1h-3zM1250 435h3v1h-3zM1249 436h1v1h-1zM1253 436h1v1h-1zM1249 437h1v1h-1zM1253 437h1v1h-1zM1249 438h1v1h-1zM1253 438h1v1h-1zM1249 439h1v1h-1zM1253 439h1v1h-1zM1249 440h1v1h-1zM1253 440h1v1h-1zM1250 441h3v1h-3z" fill="#000000"/>
<rect x="1256" y="450" width="1" height="5" fill="#000000"/>
<rect x="1273" y="450" width="1" height="5" fill="#000000"/>
<rect x="1290" y="450" width="1" height="5" fill="#000000"/>
<rect x="1306" y="450" width="1" height="5" fill="#000000"/>
<rect x="1323" y="446" width="1" height="9" fill="#000000"/>
<rect x="1340" y="450" width="1" height="5" fill="#000000"/>
<rect x="1356" y="450" width="1" height="5" fill="#000000"/>
<rect x="1373" y="450" width="1" height="5" fill="#000000"/>
<rect x="1390" y="450" width="1" height="5" fill="#000000"/>
<rect x="1406" y="432" width="25" height="1" fill="#b8a800"/>
<rect x="1406" y="433" width="1" height="22" fill="#a8a8a8"/>
<path d="M1410 435h2v1h-2zM1411 436h1v1h-1zM1411 437h1v1h-1zM1411 438h1v1h-1zM1411 439h1v1h-1zM1411 440h1v1h-1zM1409 441h5v1h-5zM1417 435h3v1h-3zM1416 436h1v1h-1zM1420 436h1v1h-1zM1416 437h1v1h-1zM1420 437h1v1h-1zM1416 438h1v1h-1zM1420 438h1v1h-1zM1416 439h1v1h-1zM1420 439h1v1h-1zM1416 440h1v1h-1zM1420 440h1v1h-1zM1417 441h3v1h-3zM1424 435h3v1h-3zM1423 436h1v1h-1zM1427 436h1v1h-1zM1423 437h1v1h-1zM1427 437h1v1h-1zM1423 438h1v1h-1zM1427 438h1v1h-1zM1423 439h1v1h-1zM1427 439h1v1h-1zM1423 440h1v1h-1zM1427 440h1v1h-1zM1424 441h3v1h-3z" fill="#000000"/>
<rect x="1423" y="450" width="1" height="5" fill="#000000"/>
<rect x="1440" y="450" width="1" height="5" fill="#000000"/>
<rect x="1456" y="450" width="1" height="5" fill="#000000"/>
<rect x="1473" y="450" width="1" height="5" fill="#000000"/>
<rect x="1490" y="446" width="1" height="9" fill="#000000"/>
<rect x="1506" y="450" width="1" height="5" fill="#000000"/>
<rect x="1523" y="450" width="1" height="5" fill="#000000"/>
<rect x="1540" y="450" width="1" height="5" fill="#000000"/>
<rect x="1557" y="450" width="1" height="5" fill="#000000"/>
<rect x="1573" y="432" width="25" height="1" fill="#b8a800"/>
<rect x="1573" y="433" width="1" height="22" fill="#a8a8a8"/>
<path d="M1577 435h2v1h-2zM1578 436h1v1h-1zM1578 437h1v1h-1zM1578 438h1v1h-1zM1578 439h1v1h-1zM1578 440h1v1h-1zM1576 441h5v1h-5zM1584 435h3v1h-3zM1583 436h1v1h-1zM1587 436h1v1h-1zM1586 437h1v1h-1zM1585 438h1v1h-1zM1584 439h1v1h-1zM1583 440h1v1h-1zM1583 441h5v1h-5zM1591 435h3v1h-3zM1590 436h1v1h-1zM1594 436h1v1h-1zM1590 437h1v1h-1zM1594 437h1v1h-1zM1590 438h1v1h-1zM1594 438h1v1h-1zM1590 439h1v1h-1zM1594 439h1v1h-1zM1590 440h1v1h-1zM1594 440h1v1h-1zM1591 441h3v1h-3z" fill="#000000"/>
<rect x="1590" y="450" width="1" height="5" fill="#000000"/>
<rect x="1607" y="450" width="1" height="5" fill="#000000"/>
<rect x="1623" y="450" width="1" height="5" fill="#000000"/>
<rect x="1640" y="450" width="1" height="5" fill="#000000"/>
<rect x="1657" y="446" width="1" height="9" fill="#000000"/>
<rect x="1673" y="450" width="1" height="5" fill="#000000"/>
<rect x="1690" y="450" width="1" height="5" fill="#000000"/>
<rect x="1707" y="450" width="1" height="5" fill="#000000"/>
<rect x="1723" y="450" width="1" height="5" fill="#000000"/>
<rect x="1740" y="432" width="25" height="1" fill="#b8a800"/>
<rect x="1740" y="433" width="1" height="22" fill="#a8a8a8"/>
<path d="M1744 435h2v1h-2zM1745 436h1v1h-1zM1745 437h1v1h-1zM1745 438h1v1h-1zM1745 439h1v1h-1zM1745 440h1v1h-1zM1743 441h5v1h-5zM1753 435h1v1h-1zM1752 436h2v1h-2zM1751 437h1v1h-1zM1753 437h1v1h-1zM1750 438h1v1h-1zM1753 438h1v1h-1zM1750 439h5v1h-5zM1753 440h1v1h-1zM1752 441h3v1h-3zM1758 435h3v1h-3zM1757 436h1v1h-1zM1761 436h1v1h-1zM1757 437h1v1h-1zM1761 437h1v1h-1zM1757 438h1v1h-1zM1761 438h1v1h-1zM1757 439h1v1h-1zM1761 439h1v1h-1zM1757 440h1v1h-1zM1761 440h1v1h-1zM1758 441h3v1h-3z" fill="#000000"/>
<rect x="1757" y="450" width="1" height="5" fill="#000000"/>
<rect x="1773" y="450" width="1" height="5" fill="#000000"/>
<rect x="1790" y="450" width="1" height="5" fill="#000000"/>
<rect x="1807" y="450" width="1" height="5" fill="#000000"/>
<rect x="1824" y="446" width="1" height="9" fill="#000000"/>
<rect x="1840" y="450" width="1" height="5" fill="#000000"/>
<rect x="1857" y="450" width="1" height="5" fill="#000000"/>
<rect x="1874" y="450" width="1" height="5" fill="#000000"/>
<rect x="739" y="89" width="1" height="344" fill="#a8a8a8"/>
<rect x="906" y="89" width="1" height="344" fill="#a8a8a8"/>
<rect x="1073" y="89" width="1" height="344" fill="#a8a8a8"/>
<rect x="1239" y="89" width="1" height="344" fill="#a8a8a8"/>
<rect x="1406" y="89" width="1" height="344" fill="#a8a8a8"/>
<rect x="1573" y="89" width="1" height="344" fill="#a8a8a8"/>
<rect x="1740" y="89" width="1" height="344" fill="#a8a8a8"/>
<rect x="571" y="68" width="2" height="387" fill="#1a74e0"/>
<rect x="571" y="51" width="26" height="18" fill="#c8c8c8"/>
<rect x="572" y="52" width="24" height="16" fill="#1a6fd8"/>
<path d="M575 54h3v1h-3zM574 55h1v1h-1zM578 55h1v1h-1zM577 56h1v1h-1zM576 57h1v1h-1zM575 58h1v1h-1zM574 59h1v1h-1zM574 60h5v1h-5zM582 54h3v1h-3zM581 55h1v1h-1zM585 55h1v1h-1zM584 56h1v1h-1zM583 57h1v1h-1zM582 58h1v1h-1zM581 59h1v1h-1zM581 60h5v1h-5zM589 54h3v1h-3zM588 55h1v1h-1zM592 55h1v1h-1zM588 56h1v1h-1zM592 56h1v1h-1zM589 57h3v1h-3zM588 58h1v1h-1zM592 58h1v1h-1zM588 59h1v1h-1zM592 59h1v1h-1zM589 60h3v1h-3z" fill="#ffffff"/>
<rect x="1639" y="48" width="2" height="407" fill="#e0d800"/>
<rect x="1639" y="33" width="26" height="16" fill="#d0d0d8"/>
<rect x="1640" y="33" width="24" height="15" fill="#cccc00"/>
<path d="M1643 35h3v1h-3zM1642 36h1v1h-1zM1646 36h1v1h-1zM1646 37h1v1h-1zM1644 38h2v1h-2zM1646 39h1v1h-1zM1642 40h1v1h-1zM1646 40h1v1h-1zM1643 41h3v1h-3zM1649 35h5v1h-5zM1649 36h1v1h-1zM1649 37h4v1h-4zM1653 38h1v1h-1zM1653 39h1v1h-1zM1649 40h1v1h-1zM1653 40h1v1h-1zM1650 41h3v1h-3zM1657 35h4v1h-4zM1657 36h1v1h-1zM1656 37h1v1h-1zM1656 38h4v1h-4zM1656 39h1v1h-1zM1660 39h1v1h-1zM1656 40h1v1h-1zM1660 40h1v1h-1zM1657 41h3v1h-3z" fill="#000000"/>
<rect x="1639" y="415" width="26" height="18" fill="#d0d0d8"/>
<rect x="1640" y="416" width="24" height="16" fill="#cccc00"/>
<path d="M1643 418h2v1h-2zM1644 419h1v1h-1zM1644 420h1v1h-1zM1644 421h1v1h-1zM1644 422h1v1h-1zM1644 423h1v1h-1zM1642 424h5v1h-5zM1650 418h3v1h-3zM1649 419h1v1h-1zM1653 419h1v1h-1zM1652 420h1v1h-1zM1651 421h1v1h-1zM1650 422h1v1h-1zM1649 423h1v1h-1zM1649 424h5v1h-5zM1657 418h3v1h-3zM1656 419h1v1h-1zM1660 419h1v1h-1zM1656 420h1v1h-1zM1660 420h1v1h-1zM1657 421h3v1h-3zM1656 422h1v1h-1zM1660 422h1v1h-1zM1656 423h1v1h-1zM1660 423h1v1h-1zM1657 424h3v1h-3z" fill="#000000"/>
</g>
</svg>
</body></html>
